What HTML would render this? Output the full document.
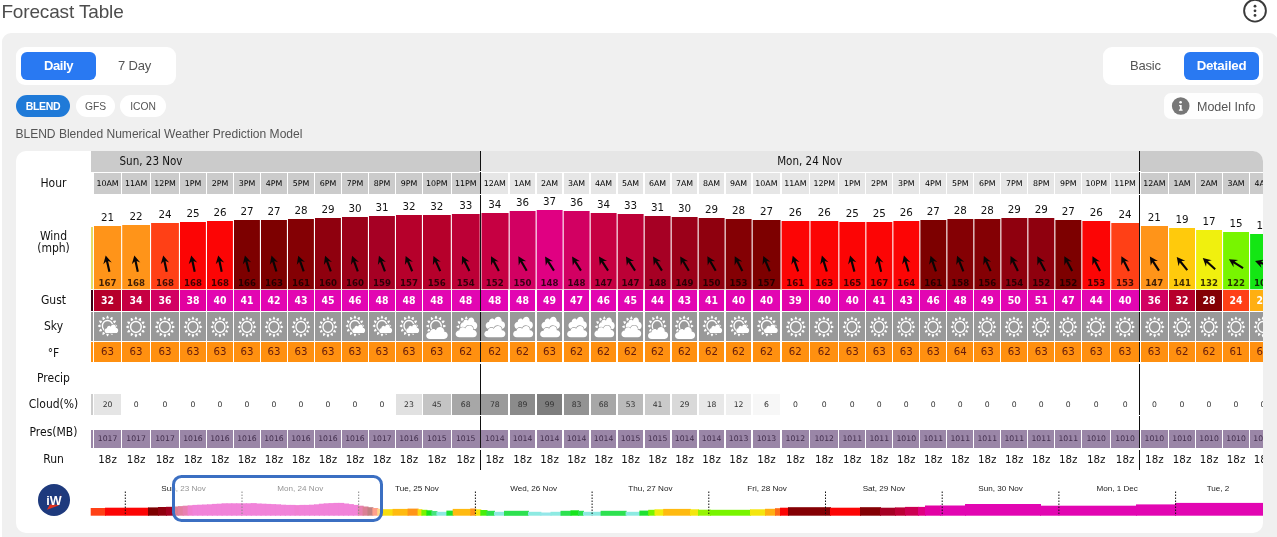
<!DOCTYPE html><html lang="en"><head><meta charset="utf-8"><title>Forecast Table</title><style>
html,body{margin:0;padding:0;background:#fff;}
body{width:1277px;height:537px;overflow:hidden;position:relative;font-family:"Liberation Sans",sans-serif;color:#555;}
.a{position:absolute;}
.t{position:absolute;white-space:nowrap;line-height:1;}
#panel{left:2px;top:33px;width:1276px;height:520px;background:#f0f0f0;border-radius:9px;}
#tbl{left:16px;top:151px;width:1247px;height:382px;background:#fff;border-radius:10px;overflow:hidden;font-family:"DejaVu Sans",sans-serif;color:#111;}
.tog{background:#fff;border-radius:9px;}
.btn{background:#2979f2;border-radius:6px;color:#fff;font-weight:bold;text-align:center;}
.pill{border-radius:11px;background:#fff;text-align:center;}
.c{position:absolute;text-align:center;white-space:nowrap;overflow:hidden;}
.lab{position:absolute;left:0;width:75px;text-align:center;font-family:"DejaVu Sans Condensed","DejaVu Sans",sans-serif;font-stretch:condensed;font-size:12px;line-height:12px;color:#111;}
.hr{top:21.5px;height:21.4px;line-height:22px;font-size:7.9px;color:#000;}
.ws{font-size:10.3px;line-height:12px;height:12px;color:#111;}
.wd{top:125.5px;height:12px;line-height:12px;font-size:8.6px;font-weight:bold;color:rgba(15,0,0,.8);}
.gu{top:139px;height:20.7px;line-height:21px;font-family:"DejaVu Sans Condensed","DejaVu Sans",sans-serif;font-stretch:condensed;font-size:10.4px;font-weight:bold;color:#fff;}
.sk{top:160.7px;height:29px;background:#999;}
.tf{top:191.1px;height:20.4px;line-height:20.6px;font-size:10.2px;color:rgba(70,5,10,.85);background:#ff9010;}
.cl{top:243px;height:21px;line-height:21px;font-size:7.7px;color:#333;}
.pr{top:278.5px;height:18.5px;line-height:18.5px;font-size:7.7px;color:rgba(40,20,50,.8);background:#9a86a7;}
.rn{top:300px;height:16px;line-height:16px;font-size:10.3px;color:#111;}
.tl{position:absolute;top:333px;font-family:"Liberation Sans",sans-serif;font-size:8.1px;color:#222;white-space:nowrap;transform:translateX(-50%);line-height:10px;}
</style></head><body>
<div class="t" id="title" style="left:1.4px;top:1.5px;font-size:19px;color:#4d4d4d;letter-spacing:-0.15px">Forecast Table</div>
<svg class="a" style="left:1241px;top:-3px" width="28" height="28" viewBox="0 0 28 28"><circle cx="14" cy="13.7" r="10.9" fill="none" stroke="#3a3a3a" stroke-width="1.9"/><circle cx="14" cy="9.2" r="1.4" fill="#3a3a3a"/><circle cx="14" cy="13.8" r="1.4" fill="#3a3a3a"/><circle cx="14" cy="18.4" r="1.4" fill="#3a3a3a"/></svg>
<div class="a" id="panel"></div>
<div class="a tog" style="left:16px;top:47px;width:160px;height:38px"></div>
<div class="a btn" style="left:21px;top:52px;width:75px;height:28px;line-height:28px;font-size:13px;letter-spacing:-0.4px">Daily</div>
<div class="t" style="left:118px;top:59px;font-size:13px;color:#555;letter-spacing:-0.2px">7 Day</div>
<div class="a pill" style="left:16px;top:95px;width:54px;height:22px;line-height:22px;background:#1f7ad8;color:#fff;font-weight:bold;font-size:10.5px;letter-spacing:-0.35px">BLEND</div>
<div class="a pill" style="left:76px;top:95px;width:39px;height:22px;line-height:23px;font-size:10.3px;color:#555">GFS</div>
<div class="a pill" style="left:120px;top:95px;width:46px;height:22px;line-height:23px;font-size:10.3px;color:#555">ICON</div>
<div class="t" id="desc" style="left:15.4px;top:128.3px;font-size:12.05px;color:#555">BLEND Blended Numerical Weather Prediction Model</div>
<div class="a tog" style="left:1103px;top:47px;width:160px;height:38px"></div>
<div class="t" style="left:1130px;top:59px;font-size:13px;color:#555;letter-spacing:-0.2px">Basic</div>
<div class="a btn" style="left:1184px;top:52px;width:75px;height:28px;line-height:28px;font-size:13.3px;letter-spacing:-0.25px">Detailed</div>
<div class="a" style="left:1164px;top:93px;width:99px;height:26px;background:#fefefe;border-radius:7px"></div>
<svg class="a" style="left:1171px;top:96px" width="20" height="20" viewBox="0 0 20 20"><circle cx="9.7" cy="10" r="8.8" fill="#777"/><circle cx="9.6" cy="6.3" r="1.3" fill="#fff"/><path d="M8.1 8.9h2.6v4.5h0.9v1.3H7.9v-1.3h1v-3.2H8.1z" fill="#fff"/></svg>
<div class="t" style="left:1197px;top:100.5px;font-size:12.5px;color:#555">Model Info</div>
<div class="a" id="tbl"><div class="a" style="left:75px;top:0;width:389.0px;height:20.6px;background:#cbcbcb"></div><div class="a" style="left:464.0px;top:0;width:659.4px;height:20.6px;background:#e6e6e6"></div><div class="a" style="left:1123.4px;top:0;width:123.6px;height:20.6px;background:#cbcbcb"></div><div class="c" style="left:75px;top:3px;width:120px;font-family:'DejaVu Sans Condensed','DejaVu Sans',sans-serif;font-stretch:condensed;font-size:11.5px;line-height:14px;color:#111">Sun, 23 Nov</div><div class="c" style="left:464.0px;top:3px;width:659.4px;font-family:'DejaVu Sans Condensed','DejaVu Sans',sans-serif;font-stretch:condensed;font-size:11.5px;line-height:14px;color:#111">Mon, 24 Nov</div><div class="lab" style="top:26px">Hour</div><div class="lab" style="top:143px">Gust</div><div class="lab" style="top:169px">Sky</div><div class="lab" style="top:195.5px">°F</div><div class="lab" style="top:221px">Precip</div><div class="lab" style="top:247px">Cloud(%)</div><div class="lab" style="top:275px">Pres(MB)</div><div class="lab" style="top:302px">Run</div><div class="lab" style="top:79px">Wind<br>(mph)</div><div class="a" style="left:75px;top:76px;width:2px;height:62.2px;background:#e6dc64"></div><div class="a" style="left:75px;top:139px;width:2px;height:20.7px;background:#3a0012"></div><div class="a" style="left:75px;top:160.7px;width:2px;height:29px;background:#999"></div><div class="a" style="left:75px;top:191.1px;width:2px;height:20.4px;background:#ff9010"></div><div class="a" style="left:75px;top:243px;width:2px;height:21px;background:#ccc"></div><div class="a" style="left:75px;top:278.5px;width:2px;height:18.5px;background:#9a86a7"></div><svg class="a" style="left:0;top:0" width="1247" height="140" viewBox="0 0 1247 140"><polygon points="78.0,75.0 105.1,75.0 105.1,138.2 78.0,138.2" fill="#ff9419"/><g transform="translate(91.6,112.7) rotate(347)"><path d="M0 -8.5 L4.3 -0.3 L1.1 -2.5 L1.05 8.2 L-1.05 8.2 L-1.1 -2.5 L-4.3 -0.3 Z" fill="#0a0505"/></g><polygon points="106.2,74.0 134.0,73.9 134.0,138.2 106.2,138.2" fill="#ff9419"/><g transform="translate(120.1,112.7) rotate(348)"><path d="M0 -8.5 L4.3 -0.3 L1.1 -2.5 L1.05 8.2 L-1.05 8.2 L-1.1 -2.5 L-4.3 -0.3 Z" fill="#0a0505"/></g><polygon points="135.1,72.1 162.9,72.0 162.9,138.2 135.1,138.2" fill="#ff4016"/><g transform="translate(149.0,112.7) rotate(348)"><path d="M0 -8.5 L4.3 -0.3 L1.1 -2.5 L1.05 8.2 L-1.05 8.2 L-1.1 -2.5 L-4.3 -0.3 Z" fill="#0a0505"/></g><polygon points="164.0,71.0 189.9,71.0 189.9,138.2 164.0,138.2" fill="#fc0505"/><g transform="translate(177.0,112.7) rotate(348)"><path d="M0 -8.5 L4.3 -0.3 L1.1 -2.5 L1.05 8.2 L-1.05 8.2 L-1.1 -2.5 L-4.3 -0.3 Z" fill="#0a0505"/></g><polygon points="191.0,70.0 216.9,70.0 216.9,138.2 191.0,138.2" fill="#fc0505"/><g transform="translate(204.0,112.7) rotate(348)"><path d="M0 -8.5 L4.3 -0.3 L1.1 -2.5 L1.05 8.2 L-1.05 8.2 L-1.1 -2.5 L-4.3 -0.3 Z" fill="#0a0505"/></g><polygon points="218.0,69.0 243.9,69.0 243.9,138.2 218.0,138.2" fill="#7d0000"/><g transform="translate(231.0,112.7) rotate(346)"><path d="M0 -8.5 L4.3 -0.3 L1.1 -2.5 L1.05 8.2 L-1.05 8.2 L-1.1 -2.5 L-4.3 -0.3 Z" fill="#0a0505"/></g><polygon points="245.0,69.0 270.9,69.0 270.9,138.2 245.0,138.2" fill="#7d0000"/><g transform="translate(258.0,112.7) rotate(343)"><path d="M0 -8.5 L4.3 -0.3 L1.1 -2.5 L1.05 8.2 L-1.05 8.2 L-1.1 -2.5 L-4.3 -0.3 Z" fill="#0a0505"/></g><polygon points="272.0,68.0 297.9,68.0 297.9,138.2 272.0,138.2" fill="#840004"/><g transform="translate(285.0,112.7) rotate(341)"><path d="M0 -8.5 L4.3 -0.3 L1.1 -2.5 L1.05 8.2 L-1.05 8.2 L-1.1 -2.5 L-4.3 -0.3 Z" fill="#0a0505"/></g><polygon points="299.0,67.0 324.9,67.0 324.9,138.2 299.0,138.2" fill="#8f000e"/><g transform="translate(312.0,112.7) rotate(340)"><path d="M0 -8.5 L4.3 -0.3 L1.1 -2.5 L1.05 8.2 L-1.05 8.2 L-1.1 -2.5 L-4.3 -0.3 Z" fill="#0a0505"/></g><polygon points="326.0,66.0 351.9,66.0 351.9,138.2 326.0,138.2" fill="#9b0019"/><g transform="translate(339.0,112.7) rotate(340)"><path d="M0 -8.5 L4.3 -0.3 L1.1 -2.5 L1.05 8.2 L-1.05 8.2 L-1.1 -2.5 L-4.3 -0.3 Z" fill="#0a0505"/></g><polygon points="353.0,65.0 378.9,65.0 378.9,138.2 353.0,138.2" fill="#a60024"/><g transform="translate(366.0,112.7) rotate(339)"><path d="M0 -8.5 L4.3 -0.3 L1.1 -2.5 L1.05 8.2 L-1.05 8.2 L-1.1 -2.5 L-4.3 -0.3 Z" fill="#0a0505"/></g><polygon points="380.0,64.0 405.9,64.0 405.9,138.2 380.0,138.2" fill="#b6002b"/><g transform="translate(393.0,112.7) rotate(337)"><path d="M0 -8.5 L4.3 -0.3 L1.1 -2.5 L1.05 8.2 L-1.05 8.2 L-1.1 -2.5 L-4.3 -0.3 Z" fill="#0a0505"/></g><polygon points="407.0,64.0 434.8,64.0 434.8,138.2 407.0,138.2" fill="#b6002b"/><g transform="translate(420.9,112.7) rotate(336)"><path d="M0 -8.5 L4.3 -0.3 L1.1 -2.5 L1.05 8.2 L-1.05 8.2 L-1.1 -2.5 L-4.3 -0.3 Z" fill="#0a0505"/></g><polygon points="435.9,63.0 463.7,63.0 463.7,138.2 435.9,138.2" fill="#bc0036"/><g transform="translate(449.8,112.7) rotate(334)"><path d="M0 -8.5 L4.3 -0.3 L1.1 -2.5 L1.05 8.2 L-1.05 8.2 L-1.1 -2.5 L-4.3 -0.3 Z" fill="#0a0505"/></g><polygon points="465.5,62.0 492.6,61.9 492.6,138.2 465.5,138.2" fill="#c60042"/><g transform="translate(479.0,112.7) rotate(332)"><path d="M0 -8.5 L4.3 -0.3 L1.1 -2.5 L1.05 8.2 L-1.05 8.2 L-1.1 -2.5 L-4.3 -0.3 Z" fill="#0a0505"/></g><polygon points="493.7,60.1 519.6,60.0 519.6,138.2 493.7,138.2" fill="#d20062"/><g transform="translate(506.6,112.7) rotate(330)"><path d="M0 -8.5 L4.3 -0.3 L1.1 -2.5 L1.05 8.2 L-1.05 8.2 L-1.1 -2.5 L-4.3 -0.3 Z" fill="#0a0505"/></g><polygon points="520.7,59.0 546.6,59.0 546.6,138.2 520.7,138.2" fill="#e00082"/><g transform="translate(533.6,112.7) rotate(328)"><path d="M0 -8.5 L4.3 -0.3 L1.1 -2.5 L1.05 8.2 L-1.05 8.2 L-1.1 -2.5 L-4.3 -0.3 Z" fill="#0a0505"/></g><polygon points="547.7,60.0 573.6,60.1 573.6,138.2 547.7,138.2" fill="#d20062"/><g transform="translate(560.6,112.7) rotate(328)"><path d="M0 -8.5 L4.3 -0.3 L1.1 -2.5 L1.05 8.2 L-1.05 8.2 L-1.1 -2.5 L-4.3 -0.3 Z" fill="#0a0505"/></g><polygon points="574.7,61.9 600.6,62.0 600.6,138.2 574.7,138.2" fill="#c60042"/><g transform="translate(587.6,112.7) rotate(327)"><path d="M0 -8.5 L4.3 -0.3 L1.1 -2.5 L1.05 8.2 L-1.05 8.2 L-1.1 -2.5 L-4.3 -0.3 Z" fill="#0a0505"/></g><polygon points="601.7,63.0 627.6,63.1 627.6,138.2 601.7,138.2" fill="#bc0036"/><g transform="translate(614.6,112.7) rotate(327)"><path d="M0 -8.5 L4.3 -0.3 L1.1 -2.5 L1.05 8.2 L-1.05 8.2 L-1.1 -2.5 L-4.3 -0.3 Z" fill="#0a0505"/></g><polygon points="628.7,64.9 654.6,65.0 654.6,138.2 628.7,138.2" fill="#a60024"/><g transform="translate(641.6,112.7) rotate(328)"><path d="M0 -8.5 L4.3 -0.3 L1.1 -2.5 L1.05 8.2 L-1.05 8.2 L-1.1 -2.5 L-4.3 -0.3 Z" fill="#0a0505"/></g><polygon points="655.7,66.0 681.6,66.0 681.6,138.2 655.7,138.2" fill="#9b0019"/><g transform="translate(668.6,112.7) rotate(329)"><path d="M0 -8.5 L4.3 -0.3 L1.1 -2.5 L1.05 8.2 L-1.05 8.2 L-1.1 -2.5 L-4.3 -0.3 Z" fill="#0a0505"/></g><polygon points="682.7,67.0 708.6,67.0 708.6,138.2 682.7,138.2" fill="#8f000e"/><g transform="translate(695.6,112.7) rotate(330)"><path d="M0 -8.5 L4.3 -0.3 L1.1 -2.5 L1.05 8.2 L-1.05 8.2 L-1.1 -2.5 L-4.3 -0.3 Z" fill="#0a0505"/></g><polygon points="709.7,68.0 735.6,68.0 735.6,138.2 709.7,138.2" fill="#840004"/><g transform="translate(722.6,112.7) rotate(333)"><path d="M0 -8.5 L4.3 -0.3 L1.1 -2.5 L1.05 8.2 L-1.05 8.2 L-1.1 -2.5 L-4.3 -0.3 Z" fill="#0a0505"/></g><polygon points="736.7,69.0 764.5,69.0 764.5,138.2 736.7,138.2" fill="#7d0000"/><g transform="translate(750.6,112.7) rotate(337)"><path d="M0 -8.5 L4.3 -0.3 L1.1 -2.5 L1.05 8.2 L-1.05 8.2 L-1.1 -2.5 L-4.3 -0.3 Z" fill="#0a0505"/></g><polygon points="765.6,70.0 793.4,70.0 793.4,138.2 765.6,138.2" fill="#fc0505"/><g transform="translate(779.5,112.7) rotate(341)"><path d="M0 -8.5 L4.3 -0.3 L1.1 -2.5 L1.05 8.2 L-1.05 8.2 L-1.1 -2.5 L-4.3 -0.3 Z" fill="#0a0505"/></g><polygon points="794.5,70.0 822.3,70.0 822.3,138.2 794.5,138.2" fill="#fc0505"/><g transform="translate(808.4,112.7) rotate(343)"><path d="M0 -8.5 L4.3 -0.3 L1.1 -2.5 L1.05 8.2 L-1.05 8.2 L-1.1 -2.5 L-4.3 -0.3 Z" fill="#0a0505"/></g><polygon points="823.4,71.0 849.3,71.0 849.3,138.2 823.4,138.2" fill="#fc0505"/><g transform="translate(836.3,112.7) rotate(345)"><path d="M0 -8.5 L4.3 -0.3 L1.1 -2.5 L1.05 8.2 L-1.05 8.2 L-1.1 -2.5 L-4.3 -0.3 Z" fill="#0a0505"/></g><polygon points="850.4,71.0 876.3,71.0 876.3,138.2 850.4,138.2" fill="#fc0505"/><g transform="translate(863.3,112.7) rotate(347)"><path d="M0 -8.5 L4.3 -0.3 L1.1 -2.5 L1.05 8.2 L-1.05 8.2 L-1.1 -2.5 L-4.3 -0.3 Z" fill="#0a0505"/></g><polygon points="877.4,70.0 903.3,70.0 903.3,138.2 877.4,138.2" fill="#fc0505"/><g transform="translate(890.3,112.7) rotate(344)"><path d="M0 -8.5 L4.3 -0.3 L1.1 -2.5 L1.05 8.2 L-1.05 8.2 L-1.1 -2.5 L-4.3 -0.3 Z" fill="#0a0505"/></g><polygon points="904.4,69.0 930.3,69.0 930.3,138.2 904.4,138.2" fill="#7d0000"/><g transform="translate(917.3,112.7) rotate(341)"><path d="M0 -8.5 L4.3 -0.3 L1.1 -2.5 L1.05 8.2 L-1.05 8.2 L-1.1 -2.5 L-4.3 -0.3 Z" fill="#0a0505"/></g><polygon points="931.4,68.0 957.3,68.0 957.3,138.2 931.4,138.2" fill="#840004"/><g transform="translate(944.3,112.7) rotate(338)"><path d="M0 -8.5 L4.3 -0.3 L1.1 -2.5 L1.05 8.2 L-1.05 8.2 L-1.1 -2.5 L-4.3 -0.3 Z" fill="#0a0505"/></g><polygon points="958.4,68.0 984.3,68.0 984.3,138.2 958.4,138.2" fill="#840004"/><g transform="translate(971.3,112.7) rotate(336)"><path d="M0 -8.5 L4.3 -0.3 L1.1 -2.5 L1.05 8.2 L-1.05 8.2 L-1.1 -2.5 L-4.3 -0.3 Z" fill="#0a0505"/></g><polygon points="985.4,67.0 1011.3,67.0 1011.3,138.2 985.4,138.2" fill="#8f000e"/><g transform="translate(998.3,112.7) rotate(334)"><path d="M0 -8.5 L4.3 -0.3 L1.1 -2.5 L1.05 8.2 L-1.05 8.2 L-1.1 -2.5 L-4.3 -0.3 Z" fill="#0a0505"/></g><polygon points="1012.4,67.0 1038.3,67.1 1038.3,138.2 1012.4,138.2" fill="#8f000e"/><g transform="translate(1025.3,112.7) rotate(332)"><path d="M0 -8.5 L4.3 -0.3 L1.1 -2.5 L1.05 8.2 L-1.05 8.2 L-1.1 -2.5 L-4.3 -0.3 Z" fill="#0a0505"/></g><polygon points="1039.4,68.9 1065.3,69.0 1065.3,138.2 1039.4,138.2" fill="#7d0000"/><g transform="translate(1052.3,112.7) rotate(332)"><path d="M0 -8.5 L4.3 -0.3 L1.1 -2.5 L1.05 8.2 L-1.05 8.2 L-1.1 -2.5 L-4.3 -0.3 Z" fill="#0a0505"/></g><polygon points="1066.4,70.0 1094.2,70.1 1094.2,138.2 1066.4,138.2" fill="#fc0505"/><g transform="translate(1080.3,112.7) rotate(333)"><path d="M0 -8.5 L4.3 -0.3 L1.1 -2.5 L1.05 8.2 L-1.05 8.2 L-1.1 -2.5 L-4.3 -0.3 Z" fill="#0a0505"/></g><polygon points="1095.3,71.9 1123.1,72.1 1123.1,138.2 1095.3,138.2" fill="#ff4016"/><g transform="translate(1109.2,112.7) rotate(333)"><path d="M0 -8.5 L4.3 -0.3 L1.1 -2.5 L1.05 8.2 L-1.05 8.2 L-1.1 -2.5 L-4.3 -0.3 Z" fill="#0a0505"/></g><polygon points="1124.9,74.9 1152.0,75.1 1152.0,138.2 1124.9,138.2" fill="#ff9419"/><g transform="translate(1138.5,112.7) rotate(327)"><path d="M0 -8.5 L4.3 -0.3 L1.1 -2.5 L1.05 8.2 L-1.05 8.2 L-1.1 -2.5 L-4.3 -0.3 Z" fill="#0a0505"/></g><polygon points="1153.1,76.9 1179.0,77.1 1179.0,138.2 1153.1,138.2" fill="#ffca0c"/><g transform="translate(1166.1,112.7) rotate(321)"><path d="M0 -8.5 L4.3 -0.3 L1.1 -2.5 L1.05 8.2 L-1.05 8.2 L-1.1 -2.5 L-4.3 -0.3 Z" fill="#0a0505"/></g><polygon points="1180.1,78.9 1206.0,79.1 1206.0,138.2 1180.1,138.2" fill="#f0f00e"/><g transform="translate(1193.1,112.7) rotate(312)"><path d="M0 -8.5 L4.3 -0.3 L1.1 -2.5 L1.05 8.2 L-1.05 8.2 L-1.1 -2.5 L-4.3 -0.3 Z" fill="#0a0505"/></g><polygon points="1207.1,80.9 1233.0,81.1 1233.0,138.2 1207.1,138.2" fill="#78f500"/><g transform="translate(1220.1,112.7) rotate(302)"><path d="M0 -8.5 L4.3 -0.3 L1.1 -2.5 L1.05 8.2 L-1.05 8.2 L-1.1 -2.5 L-4.3 -0.3 Z" fill="#0a0505"/></g><polygon points="1234.1,82.9 1260.0,83.1 1260.0,138.2 1234.1,138.2" fill="#14e614"/><g transform="translate(1247.1,112.7) rotate(289)"><path d="M0 -8.5 L4.3 -0.3 L1.1 -2.5 L1.05 8.2 L-1.05 8.2 L-1.1 -2.5 L-4.3 -0.3 Z" fill="#0a0505"/></g></svg><div class="c hr" style="left:78.0px;width:27.1px;background:#cbcbcb">10AM</div><div class="c ws" style="left:78.0px;width:27.1px;top:60.4px">21</div><div class="c wd" style="left:78.0px;width:27.1px">167</div><div class="c gu" style="left:78.0px;width:27.1px;background:#b6002b">32</div><div class="c sk" style="left:78.0px;width:27.1px"><svg width="27.1" height="29" viewBox="0 0 26 26" preserveAspectRatio="none" style="position:absolute;left:0;top:0"><circle cx="13" cy="12.5" r="4.95" fill="none" stroke="#fff" stroke-width="1.3"/><path d="M13.00 3.80L13.70 5.30L12.30 5.30ZM17.35 4.97L17.21 6.61L15.99 5.91ZM20.53 8.15L19.59 9.51L18.89 8.29ZM21.70 12.50L20.20 13.20L20.20 11.80ZM20.53 16.85L18.89 16.71L19.59 15.49ZM17.35 20.03L15.99 19.09L17.21 18.39ZM13.00 21.20L12.30 19.70L13.70 19.70ZM8.65 20.03L8.79 18.39L10.01 19.09ZM5.47 16.85L6.41 15.49L7.11 16.71ZM4.30 12.50L5.80 11.80L5.80 13.20ZM5.47 8.15L7.11 8.29L6.41 9.51ZM8.65 4.97L10.01 5.91L8.79 6.61Z" fill="#fff" stroke="#fff" stroke-width="1.1" stroke-linejoin="round"/><path d="M12.60 18.90 C9.50 18.90 9.50 14.61 12.47 14.47 C12.60 12.39 15.06 11.61 16.09 13.17 C17.06 10.05 21.26 10.70 21.00 14.08 C23.98 14.21 23.98 18.90 21.00 18.90 Z" fill="#fff" stroke="#999" stroke-width="1.0" paint-order="stroke"/></svg></div><div class="c tf" style="left:78.0px;width:27.1px">63</div><div class="c cl" style="left:78.0px;width:27.1px;background:#e5e5e5;">20</div><div class="c pr" style="left:78.0px;width:27.1px">1017</div><div class="c rn" style="left:78.0px;width:27.1px">18z</div><div class="c hr" style="left:106.2px;width:27.8px;background:#cbcbcb">11AM</div><div class="c ws" style="left:106.2px;width:27.8px;top:59.4px">22</div><div class="c wd" style="left:106.2px;width:27.8px">168</div><div class="c gu" style="left:106.2px;width:27.8px;background:#c60042">34</div><div class="c sk" style="left:106.2px;width:27.8px"><svg width="27.8" height="29" viewBox="0 0 26 26" preserveAspectRatio="none" style="position:absolute;left:0;top:0"><circle cx="13" cy="13.4" r="4.95" fill="none" stroke="#fff" stroke-width="1.3"/><path d="M13.00 4.70L13.70 6.20L12.30 6.20ZM17.35 5.87L17.21 7.51L15.99 6.81ZM20.53 9.05L19.59 10.41L18.89 9.19ZM21.70 13.40L20.20 14.10L20.20 12.70ZM20.53 17.75L18.89 17.61L19.59 16.39ZM17.35 20.93L15.99 19.99L17.21 19.29ZM13.00 22.10L12.30 20.60L13.70 20.60ZM8.65 20.93L8.79 19.29L10.01 19.99ZM5.47 17.75L6.41 16.39L7.11 17.61ZM4.30 13.40L5.80 12.70L5.80 14.10ZM5.47 9.05L7.11 9.19L6.41 10.41ZM8.65 5.87L10.01 6.81L8.79 7.51Z" fill="#fff" stroke="#fff" stroke-width="1.1" stroke-linejoin="round"/></svg></div><div class="c tf" style="left:106.2px;width:27.8px">63</div><div class="c cl" style="left:106.2px;width:27.8px;">0</div><div class="c pr" style="left:106.2px;width:27.8px">1017</div><div class="c rn" style="left:106.2px;width:27.8px">18z</div><div class="c hr" style="left:135.1px;width:27.8px;background:#cbcbcb">12PM</div><div class="c ws" style="left:135.1px;width:27.8px;top:57.4px">24</div><div class="c wd" style="left:135.1px;width:27.8px">168</div><div class="c gu" style="left:135.1px;width:27.8px;background:#d20062">36</div><div class="c sk" style="left:135.1px;width:27.8px"><svg width="27.8" height="29" viewBox="0 0 26 26" preserveAspectRatio="none" style="position:absolute;left:0;top:0"><circle cx="13" cy="13.4" r="4.95" fill="none" stroke="#fff" stroke-width="1.3"/><path d="M13.00 4.70L13.70 6.20L12.30 6.20ZM17.35 5.87L17.21 7.51L15.99 6.81ZM20.53 9.05L19.59 10.41L18.89 9.19ZM21.70 13.40L20.20 14.10L20.20 12.70ZM20.53 17.75L18.89 17.61L19.59 16.39ZM17.35 20.93L15.99 19.99L17.21 19.29ZM13.00 22.10L12.30 20.60L13.70 20.60ZM8.65 20.93L8.79 19.29L10.01 19.99ZM5.47 17.75L6.41 16.39L7.11 17.61ZM4.30 13.40L5.80 12.70L5.80 14.10ZM5.47 9.05L7.11 9.19L6.41 10.41ZM8.65 5.87L10.01 6.81L8.79 7.51Z" fill="#fff" stroke="#fff" stroke-width="1.1" stroke-linejoin="round"/></svg></div><div class="c tf" style="left:135.1px;width:27.8px">63</div><div class="c cl" style="left:135.1px;width:27.8px;">0</div><div class="c pr" style="left:135.1px;width:27.8px">1017</div><div class="c rn" style="left:135.1px;width:27.8px">18z</div><div class="c hr" style="left:164.0px;width:25.9px;background:#cbcbcb">1PM</div><div class="c ws" style="left:164.0px;width:25.9px;top:56.4px">25</div><div class="c wd" style="left:164.0px;width:25.9px">168</div><div class="c gu" style="left:164.0px;width:25.9px;background:#e200a0">38</div><div class="c sk" style="left:164.0px;width:25.9px"><svg width="25.9" height="29" viewBox="0 0 26 26" preserveAspectRatio="none" style="position:absolute;left:0;top:0"><circle cx="13" cy="13.4" r="4.95" fill="none" stroke="#fff" stroke-width="1.3"/><path d="M13.00 4.70L13.70 6.20L12.30 6.20ZM17.35 5.87L17.21 7.51L15.99 6.81ZM20.53 9.05L19.59 10.41L18.89 9.19ZM21.70 13.40L20.20 14.10L20.20 12.70ZM20.53 17.75L18.89 17.61L19.59 16.39ZM17.35 20.93L15.99 19.99L17.21 19.29ZM13.00 22.10L12.30 20.60L13.70 20.60ZM8.65 20.93L8.79 19.29L10.01 19.99ZM5.47 17.75L6.41 16.39L7.11 17.61ZM4.30 13.40L5.80 12.70L5.80 14.10ZM5.47 9.05L7.11 9.19L6.41 10.41ZM8.65 5.87L10.01 6.81L8.79 7.51Z" fill="#fff" stroke="#fff" stroke-width="1.1" stroke-linejoin="round"/></svg></div><div class="c tf" style="left:164.0px;width:25.9px">63</div><div class="c cl" style="left:164.0px;width:25.9px;">0</div><div class="c pr" style="left:164.0px;width:25.9px">1016</div><div class="c rn" style="left:164.0px;width:25.9px">18z</div><div class="c hr" style="left:191.0px;width:25.9px;background:#cbcbcb">2PM</div><div class="c ws" style="left:191.0px;width:25.9px;top:55.4px">26</div><div class="c wd" style="left:191.0px;width:25.9px">168</div><div class="c gu" style="left:191.0px;width:25.9px;background:#e206b2">40</div><div class="c sk" style="left:191.0px;width:25.9px"><svg width="25.9" height="29" viewBox="0 0 26 26" preserveAspectRatio="none" style="position:absolute;left:0;top:0"><circle cx="13" cy="13.4" r="4.95" fill="none" stroke="#fff" stroke-width="1.3"/><path d="M13.00 4.70L13.70 6.20L12.30 6.20ZM17.35 5.87L17.21 7.51L15.99 6.81ZM20.53 9.05L19.59 10.41L18.89 9.19ZM21.70 13.40L20.20 14.10L20.20 12.70ZM20.53 17.75L18.89 17.61L19.59 16.39ZM17.35 20.93L15.99 19.99L17.21 19.29ZM13.00 22.10L12.30 20.60L13.70 20.60ZM8.65 20.93L8.79 19.29L10.01 19.99ZM5.47 17.75L6.41 16.39L7.11 17.61ZM4.30 13.40L5.80 12.70L5.80 14.10ZM5.47 9.05L7.11 9.19L6.41 10.41ZM8.65 5.87L10.01 6.81L8.79 7.51Z" fill="#fff" stroke="#fff" stroke-width="1.1" stroke-linejoin="round"/></svg></div><div class="c tf" style="left:191.0px;width:25.9px">63</div><div class="c cl" style="left:191.0px;width:25.9px;">0</div><div class="c pr" style="left:191.0px;width:25.9px">1016</div><div class="c rn" style="left:191.0px;width:25.9px">18z</div><div class="c hr" style="left:218.0px;width:25.9px;background:#cbcbcb">3PM</div><div class="c ws" style="left:218.0px;width:25.9px;top:54.4px">27</div><div class="c wd" style="left:218.0px;width:25.9px">166</div><div class="c gu" style="left:218.0px;width:25.9px;background:#e206b2">41</div><div class="c sk" style="left:218.0px;width:25.9px"><svg width="25.9" height="29" viewBox="0 0 26 26" preserveAspectRatio="none" style="position:absolute;left:0;top:0"><circle cx="13" cy="13.4" r="4.95" fill="none" stroke="#fff" stroke-width="1.3"/><path d="M13.00 4.70L13.70 6.20L12.30 6.20ZM17.35 5.87L17.21 7.51L15.99 6.81ZM20.53 9.05L19.59 10.41L18.89 9.19ZM21.70 13.40L20.20 14.10L20.20 12.70ZM20.53 17.75L18.89 17.61L19.59 16.39ZM17.35 20.93L15.99 19.99L17.21 19.29ZM13.00 22.10L12.30 20.60L13.70 20.60ZM8.65 20.93L8.79 19.29L10.01 19.99ZM5.47 17.75L6.41 16.39L7.11 17.61ZM4.30 13.40L5.80 12.70L5.80 14.10ZM5.47 9.05L7.11 9.19L6.41 10.41ZM8.65 5.87L10.01 6.81L8.79 7.51Z" fill="#fff" stroke="#fff" stroke-width="1.1" stroke-linejoin="round"/></svg></div><div class="c tf" style="left:218.0px;width:25.9px">63</div><div class="c cl" style="left:218.0px;width:25.9px;">0</div><div class="c pr" style="left:218.0px;width:25.9px">1016</div><div class="c rn" style="left:218.0px;width:25.9px">18z</div><div class="c hr" style="left:245.0px;width:25.9px;background:#cbcbcb">4PM</div><div class="c ws" style="left:245.0px;width:25.9px;top:54.4px">27</div><div class="c wd" style="left:245.0px;width:25.9px">163</div><div class="c gu" style="left:245.0px;width:25.9px;background:#e206b2">42</div><div class="c sk" style="left:245.0px;width:25.9px"><svg width="25.9" height="29" viewBox="0 0 26 26" preserveAspectRatio="none" style="position:absolute;left:0;top:0"><circle cx="13" cy="13.4" r="4.95" fill="none" stroke="#fff" stroke-width="1.3"/><path d="M13.00 4.70L13.70 6.20L12.30 6.20ZM17.35 5.87L17.21 7.51L15.99 6.81ZM20.53 9.05L19.59 10.41L18.89 9.19ZM21.70 13.40L20.20 14.10L20.20 12.70ZM20.53 17.75L18.89 17.61L19.59 16.39ZM17.35 20.93L15.99 19.99L17.21 19.29ZM13.00 22.10L12.30 20.60L13.70 20.60ZM8.65 20.93L8.79 19.29L10.01 19.99ZM5.47 17.75L6.41 16.39L7.11 17.61ZM4.30 13.40L5.80 12.70L5.80 14.10ZM5.47 9.05L7.11 9.19L6.41 10.41ZM8.65 5.87L10.01 6.81L8.79 7.51Z" fill="#fff" stroke="#fff" stroke-width="1.1" stroke-linejoin="round"/></svg></div><div class="c tf" style="left:245.0px;width:25.9px">63</div><div class="c cl" style="left:245.0px;width:25.9px;">0</div><div class="c pr" style="left:245.0px;width:25.9px">1016</div><div class="c rn" style="left:245.0px;width:25.9px">18z</div><div class="c hr" style="left:272.0px;width:25.9px;background:#cbcbcb">5PM</div><div class="c ws" style="left:272.0px;width:25.9px;top:53.4px">28</div><div class="c wd" style="left:272.0px;width:25.9px">161</div><div class="c gu" style="left:272.0px;width:25.9px;background:#e206b2">43</div><div class="c sk" style="left:272.0px;width:25.9px"><svg width="25.9" height="29" viewBox="0 0 26 26" preserveAspectRatio="none" style="position:absolute;left:0;top:0"><circle cx="13" cy="13.4" r="4.95" fill="none" stroke="#fff" stroke-width="1.3"/><path d="M13.00 4.70L13.70 6.20L12.30 6.20ZM17.35 5.87L17.21 7.51L15.99 6.81ZM20.53 9.05L19.59 10.41L18.89 9.19ZM21.70 13.40L20.20 14.10L20.20 12.70ZM20.53 17.75L18.89 17.61L19.59 16.39ZM17.35 20.93L15.99 19.99L17.21 19.29ZM13.00 22.10L12.30 20.60L13.70 20.60ZM8.65 20.93L8.79 19.29L10.01 19.99ZM5.47 17.75L6.41 16.39L7.11 17.61ZM4.30 13.40L5.80 12.70L5.80 14.10ZM5.47 9.05L7.11 9.19L6.41 10.41ZM8.65 5.87L10.01 6.81L8.79 7.51Z" fill="#fff" stroke="#fff" stroke-width="1.1" stroke-linejoin="round"/></svg></div><div class="c tf" style="left:272.0px;width:25.9px">63</div><div class="c cl" style="left:272.0px;width:25.9px;">0</div><div class="c pr" style="left:272.0px;width:25.9px">1016</div><div class="c rn" style="left:272.0px;width:25.9px">18z</div><div class="c hr" style="left:299.0px;width:25.9px;background:#cbcbcb">6PM</div><div class="c ws" style="left:299.0px;width:25.9px;top:52.4px">29</div><div class="c wd" style="left:299.0px;width:25.9px">160</div><div class="c gu" style="left:299.0px;width:25.9px;background:#e206b2">45</div><div class="c sk" style="left:299.0px;width:25.9px"><svg width="25.9" height="29" viewBox="0 0 26 26" preserveAspectRatio="none" style="position:absolute;left:0;top:0"><circle cx="13" cy="13.4" r="4.95" fill="none" stroke="#fff" stroke-width="1.3"/><path d="M13.00 4.70L13.70 6.20L12.30 6.20ZM17.35 5.87L17.21 7.51L15.99 6.81ZM20.53 9.05L19.59 10.41L18.89 9.19ZM21.70 13.40L20.20 14.10L20.20 12.70ZM20.53 17.75L18.89 17.61L19.59 16.39ZM17.35 20.93L15.99 19.99L17.21 19.29ZM13.00 22.10L12.30 20.60L13.70 20.60ZM8.65 20.93L8.79 19.29L10.01 19.99ZM5.47 17.75L6.41 16.39L7.11 17.61ZM4.30 13.40L5.80 12.70L5.80 14.10ZM5.47 9.05L7.11 9.19L6.41 10.41ZM8.65 5.87L10.01 6.81L8.79 7.51Z" fill="#fff" stroke="#fff" stroke-width="1.1" stroke-linejoin="round"/></svg></div><div class="c tf" style="left:299.0px;width:25.9px">63</div><div class="c cl" style="left:299.0px;width:25.9px;">0</div><div class="c pr" style="left:299.0px;width:25.9px">1016</div><div class="c rn" style="left:299.0px;width:25.9px">18z</div><div class="c hr" style="left:326.0px;width:25.9px;background:#cbcbcb">7PM</div><div class="c ws" style="left:326.0px;width:25.9px;top:51.4px">30</div><div class="c wd" style="left:326.0px;width:25.9px">160</div><div class="c gu" style="left:326.0px;width:25.9px;background:#e206b2">46</div><div class="c sk" style="left:326.0px;width:25.9px"><svg width="25.9" height="29" viewBox="0 0 26 26" preserveAspectRatio="none" style="position:absolute;left:0;top:0"><circle cx="13" cy="12.5" r="4.95" fill="none" stroke="#fff" stroke-width="1.3"/><path d="M13.00 3.80L13.70 5.30L12.30 5.30ZM17.35 4.97L17.21 6.61L15.99 5.91ZM20.53 8.15L19.59 9.51L18.89 8.29ZM21.70 12.50L20.20 13.20L20.20 11.80ZM20.53 16.85L18.89 16.71L19.59 15.49ZM17.35 20.03L15.99 19.09L17.21 18.39ZM13.00 21.20L12.30 19.70L13.70 19.70ZM8.65 20.03L8.79 18.39L10.01 19.09ZM5.47 16.85L6.41 15.49L7.11 16.71ZM4.30 12.50L5.80 11.80L5.80 13.20ZM5.47 8.15L7.11 8.29L6.41 9.51ZM8.65 4.97L10.01 5.91L8.79 6.61Z" fill="#fff" stroke="#fff" stroke-width="1.1" stroke-linejoin="round"/><path d="M12.60 18.90 C9.50 18.90 9.50 14.61 12.47 14.47 C12.60 12.39 15.06 11.61 16.09 13.17 C17.06 10.05 21.26 10.70 21.00 14.08 C23.98 14.21 23.98 18.90 21.00 18.90 Z" fill="#fff" stroke="#999" stroke-width="1.0" paint-order="stroke"/></svg></div><div class="c tf" style="left:326.0px;width:25.9px">63</div><div class="c cl" style="left:326.0px;width:25.9px;">0</div><div class="c pr" style="left:326.0px;width:25.9px">1016</div><div class="c rn" style="left:326.0px;width:25.9px">18z</div><div class="c hr" style="left:353.0px;width:25.9px;background:#cbcbcb">8PM</div><div class="c ws" style="left:353.0px;width:25.9px;top:50.4px">31</div><div class="c wd" style="left:353.0px;width:25.9px">159</div><div class="c gu" style="left:353.0px;width:25.9px;background:#e206b2">48</div><div class="c sk" style="left:353.0px;width:25.9px"><svg width="25.9" height="29" viewBox="0 0 26 26" preserveAspectRatio="none" style="position:absolute;left:0;top:0"><circle cx="13" cy="12.5" r="4.95" fill="none" stroke="#fff" stroke-width="1.3"/><path d="M13.00 3.80L13.70 5.30L12.30 5.30ZM17.35 4.97L17.21 6.61L15.99 5.91ZM20.53 8.15L19.59 9.51L18.89 8.29ZM21.70 12.50L20.20 13.20L20.20 11.80ZM20.53 16.85L18.89 16.71L19.59 15.49ZM17.35 20.03L15.99 19.09L17.21 18.39ZM13.00 21.20L12.30 19.70L13.70 19.70ZM8.65 20.03L8.79 18.39L10.01 19.09ZM5.47 16.85L6.41 15.49L7.11 16.71ZM4.30 12.50L5.80 11.80L5.80 13.20ZM5.47 8.15L7.11 8.29L6.41 9.51ZM8.65 4.97L10.01 5.91L8.79 6.61Z" fill="#fff" stroke="#fff" stroke-width="1.1" stroke-linejoin="round"/><path d="M12.60 18.90 C9.50 18.90 9.50 14.61 12.47 14.47 C12.60 12.39 15.06 11.61 16.09 13.17 C17.06 10.05 21.26 10.70 21.00 14.08 C23.98 14.21 23.98 18.90 21.00 18.90 Z" fill="#fff" stroke="#999" stroke-width="1.0" paint-order="stroke"/></svg></div><div class="c tf" style="left:353.0px;width:25.9px">63</div><div class="c cl" style="left:353.0px;width:25.9px;">0</div><div class="c pr" style="left:353.0px;width:25.9px">1017</div><div class="c rn" style="left:353.0px;width:25.9px">18z</div><div class="c hr" style="left:380.0px;width:25.9px;background:#cbcbcb">9PM</div><div class="c ws" style="left:380.0px;width:25.9px;top:49.4px">32</div><div class="c wd" style="left:380.0px;width:25.9px">157</div><div class="c gu" style="left:380.0px;width:25.9px;background:#e206b2">48</div><div class="c sk" style="left:380.0px;width:25.9px"><svg width="25.9" height="29" viewBox="0 0 26 26" preserveAspectRatio="none" style="position:absolute;left:0;top:0"><circle cx="13" cy="12.5" r="4.95" fill="none" stroke="#fff" stroke-width="1.3"/><path d="M13.00 3.80L13.70 5.30L12.30 5.30ZM17.35 4.97L17.21 6.61L15.99 5.91ZM20.53 8.15L19.59 9.51L18.89 8.29ZM21.70 12.50L20.20 13.20L20.20 11.80ZM20.53 16.85L18.89 16.71L19.59 15.49ZM17.35 20.03L15.99 19.09L17.21 18.39ZM13.00 21.20L12.30 19.70L13.70 19.70ZM8.65 20.03L8.79 18.39L10.01 19.09ZM5.47 16.85L6.41 15.49L7.11 16.71ZM4.30 12.50L5.80 11.80L5.80 13.20ZM5.47 8.15L7.11 8.29L6.41 9.51ZM8.65 4.97L10.01 5.91L8.79 6.61Z" fill="#fff" stroke="#fff" stroke-width="1.1" stroke-linejoin="round"/><path d="M12.60 18.90 C9.50 18.90 9.50 14.61 12.47 14.47 C12.60 12.39 15.06 11.61 16.09 13.17 C17.06 10.05 21.26 10.70 21.00 14.08 C23.98 14.21 23.98 18.90 21.00 18.90 Z" fill="#fff" stroke="#999" stroke-width="1.0" paint-order="stroke"/></svg></div><div class="c tf" style="left:380.0px;width:25.9px">63</div><div class="c cl" style="left:380.0px;width:25.9px;background:#e1e1e1;">23</div><div class="c pr" style="left:380.0px;width:25.9px">1016</div><div class="c rn" style="left:380.0px;width:25.9px">18z</div><div class="c hr" style="left:407.0px;width:27.7px;background:#cbcbcb">10PM</div><div class="c ws" style="left:407.0px;width:27.7px;top:49.4px">32</div><div class="c wd" style="left:407.0px;width:27.7px">156</div><div class="c gu" style="left:407.0px;width:27.7px;background:#e206b2">48</div><div class="c sk" style="left:407.0px;width:27.7px"><svg width="27.7" height="29" viewBox="0 0 26 26" preserveAspectRatio="none" style="position:absolute;left:0;top:0"><circle cx="12.2" cy="12.6" r="4.95" fill="none" stroke="#fff" stroke-width="1.3"/><path d="M12.20 3.90L12.90 5.40L11.50 5.40ZM16.55 5.07L16.41 6.71L15.19 6.01ZM19.73 8.25L18.79 9.61L18.09 8.39ZM20.90 12.60L19.40 13.30L19.40 11.90ZM19.73 16.95L18.09 16.81L18.79 15.59ZM16.55 20.13L15.19 19.19L16.41 18.49ZM12.20 21.30L11.50 19.80L12.90 19.80ZM7.85 20.13L7.99 18.49L9.21 19.19ZM4.67 16.95L5.61 15.59L6.31 16.81ZM3.50 12.60L5.00 11.90L5.00 13.30ZM4.67 8.25L6.31 8.39L5.61 9.61ZM7.85 5.07L9.21 6.01L7.99 6.71Z" fill="#fff" stroke="#fff" stroke-width="1.1" stroke-linejoin="round"/><path d="M6.70 24.20 C1.88 24.20 1.88 18.30 6.50 18.12 C6.70 15.25 10.52 14.18 12.13 16.33 C13.64 12.03 20.17 12.93 19.76 17.58 C24.39 17.76 24.39 24.20 19.76 24.20 Z" fill="#fff" stroke="#999" stroke-width="1.0" paint-order="stroke"/></svg></div><div class="c tf" style="left:407.0px;width:27.7px">63</div><div class="c cl" style="left:407.0px;width:27.7px;background:#c4c4c4;">45</div><div class="c pr" style="left:407.0px;width:27.7px">1015</div><div class="c rn" style="left:407.0px;width:27.7px">18z</div><div class="c hr" style="left:435.9px;width:27.7px;background:#cbcbcb">11PM</div><div class="c ws" style="left:435.9px;width:27.7px;top:48.4px">33</div><div class="c wd" style="left:435.9px;width:27.7px">154</div><div class="c gu" style="left:435.9px;width:27.7px;background:#e206b2">48</div><div class="c sk" style="left:435.9px;width:27.7px"><svg width="27.7" height="29" viewBox="0 0 26 26" preserveAspectRatio="none" style="position:absolute;left:0;top:0"><circle cx="13.4" cy="13.2" r="4.95" fill="none" stroke="#fff" stroke-width="1.3"/><path d="M13.40 4.50L14.10 6.00L12.70 6.00ZM17.75 5.67L17.61 7.31L16.39 6.61ZM20.93 8.85L19.99 10.21L19.29 8.99ZM22.10 13.20L20.60 13.90L20.60 12.50ZM20.93 17.55L19.29 17.41L19.99 16.19ZM17.75 20.73L16.39 19.79L17.61 19.09ZM13.40 21.90L12.70 20.40L14.10 20.40ZM9.05 20.73L9.19 19.09L10.41 19.79ZM5.87 17.55L6.81 16.19L7.51 17.41ZM4.70 13.20L6.20 12.50L6.20 13.90ZM5.87 8.85L7.51 8.99L6.81 10.21ZM9.05 5.67L10.41 6.61L9.19 7.31Z" fill="#fff" stroke="#fff" stroke-width="1.1" stroke-linejoin="round"/><path d="M10.71 15.50 C6.91 15.50 6.91 9.68 10.56 9.50 C10.71 6.68 13.73 5.62 14.99 7.74 C16.18 3.50 21.33 4.39 21.02 8.97 C24.66 9.15 24.66 15.50 21.02 15.50 Z" fill="#fff" stroke="#999" stroke-width="1.0" paint-order="stroke"/><path d="M7.04 22.60 C2.29 22.60 2.29 16.78 6.85 16.60 C7.04 13.78 10.81 12.72 12.39 14.84 C13.88 10.60 20.32 11.49 19.92 16.07 C24.48 16.25 24.48 22.60 19.92 22.60 Z" fill="#fff" stroke="#999" stroke-width="1.0" paint-order="stroke"/></svg></div><div class="c tf" style="left:435.9px;width:27.7px">62</div><div class="c cl" style="left:435.9px;width:27.7px;background:#a7a7a7;">68</div><div class="c pr" style="left:435.9px;width:27.7px">1015</div><div class="c rn" style="left:435.9px;width:27.7px">18z</div><div class="c hr" style="left:465.2px;width:27.2px;background:#e6e6e6">12AM</div><div class="c ws" style="left:465.2px;width:27.2px;top:47.4px">34</div><div class="c wd" style="left:465.2px;width:27.2px">152</div><div class="c gu" style="left:465.2px;width:27.2px;background:#e206b2">48</div><div class="c sk" style="left:465.2px;width:27.2px"><svg width="27.2" height="29" viewBox="0 0 26 26" preserveAspectRatio="none" style="position:absolute;left:0;top:0"><path d="M7.85 15.20 C3.43 15.20 3.43 9.09 7.66 8.90 C7.85 5.94 11.34 4.83 12.81 7.05 C14.19 2.60 20.17 3.53 19.81 8.35 C24.04 8.53 24.04 15.20 19.81 15.20 Z" fill="#fff" stroke="#999" stroke-width="1.0" paint-order="stroke"/><path d="M6.80 22.60 C1.98 22.60 1.98 16.98 6.60 16.81 C6.80 14.08 10.62 13.06 12.23 15.10 C13.74 11.01 20.27 11.86 19.86 16.30 C24.49 16.47 24.49 22.60 19.86 22.60 Z" fill="#fff" stroke="#999" stroke-width="1.0" paint-order="stroke"/></svg></div><div class="c tf" style="left:465.2px;width:27.2px">62</div><div class="c cl" style="left:465.2px;width:27.2px;background:#9a9a9a;">78</div><div class="c pr" style="left:465.2px;width:27.2px">1014</div><div class="c rn" style="left:465.2px;width:27.2px">18z</div><div class="c hr" style="left:493.6px;width:25.9px;background:#e6e6e6">1AM</div><div class="c ws" style="left:493.6px;width:25.9px;top:45.4px">36</div><div class="c wd" style="left:493.6px;width:25.9px">150</div><div class="c gu" style="left:493.6px;width:25.9px;background:#e206b2">48</div><div class="c sk" style="left:493.6px;width:25.9px"><svg width="25.9" height="29" viewBox="0 0 26 26" preserveAspectRatio="none" style="position:absolute;left:0;top:0"><path d="M7.85 15.20 C3.43 15.20 3.43 9.09 7.66 8.90 C7.85 5.94 11.34 4.83 12.81 7.05 C14.19 2.60 20.17 3.53 19.81 8.35 C24.04 8.53 24.04 15.20 19.81 15.20 Z" fill="#fff" stroke="#999" stroke-width="1.0" paint-order="stroke"/><path d="M6.80 22.60 C1.98 22.60 1.98 16.98 6.60 16.81 C6.80 14.08 10.62 13.06 12.23 15.10 C13.74 11.01 20.27 11.86 19.86 16.30 C24.49 16.47 24.49 22.60 19.86 22.60 Z" fill="#fff" stroke="#999" stroke-width="1.0" paint-order="stroke"/></svg></div><div class="c tf" style="left:493.6px;width:25.9px">62</div><div class="c cl" style="left:493.6px;width:25.9px;background:#8b8b8b;">89</div><div class="c pr" style="left:493.6px;width:25.9px">1014</div><div class="c rn" style="left:493.6px;width:25.9px">18z</div><div class="c hr" style="left:520.6px;width:25.9px;background:#e6e6e6">2AM</div><div class="c ws" style="left:520.6px;width:25.9px;top:44.4px">37</div><div class="c wd" style="left:520.6px;width:25.9px">148</div><div class="c gu" style="left:520.6px;width:25.9px;background:#e206b2">49</div><div class="c sk" style="left:520.6px;width:25.9px"><svg width="25.9" height="29" viewBox="0 0 26 26" preserveAspectRatio="none" style="position:absolute;left:0;top:0"><path d="M7.85 15.20 C3.43 15.20 3.43 9.09 7.66 8.90 C7.85 5.94 11.34 4.83 12.81 7.05 C14.19 2.60 20.17 3.53 19.81 8.35 C24.04 8.53 24.04 15.20 19.81 15.20 Z" fill="#fff" stroke="#999" stroke-width="1.0" paint-order="stroke"/><path d="M6.80 22.60 C1.98 22.60 1.98 16.98 6.60 16.81 C6.80 14.08 10.62 13.06 12.23 15.10 C13.74 11.01 20.27 11.86 19.86 16.30 C24.49 16.47 24.49 22.60 19.86 22.60 Z" fill="#fff" stroke="#999" stroke-width="1.0" paint-order="stroke"/></svg></div><div class="c tf" style="left:520.6px;width:25.9px">63</div><div class="c cl" style="left:520.6px;width:25.9px;background:#7e7e7e;">99</div><div class="c pr" style="left:520.6px;width:25.9px">1014</div><div class="c rn" style="left:520.6px;width:25.9px">18z</div><div class="c hr" style="left:547.6px;width:25.9px;background:#e6e6e6">3AM</div><div class="c ws" style="left:547.6px;width:25.9px;top:45.4px">36</div><div class="c wd" style="left:547.6px;width:25.9px">148</div><div class="c gu" style="left:547.6px;width:25.9px;background:#e206b2">47</div><div class="c sk" style="left:547.6px;width:25.9px"><svg width="25.9" height="29" viewBox="0 0 26 26" preserveAspectRatio="none" style="position:absolute;left:0;top:0"><path d="M7.85 15.20 C3.43 15.20 3.43 9.09 7.66 8.90 C7.85 5.94 11.34 4.83 12.81 7.05 C14.19 2.60 20.17 3.53 19.81 8.35 C24.04 8.53 24.04 15.20 19.81 15.20 Z" fill="#fff" stroke="#999" stroke-width="1.0" paint-order="stroke"/><path d="M6.80 22.60 C1.98 22.60 1.98 16.98 6.60 16.81 C6.80 14.08 10.62 13.06 12.23 15.10 C13.74 11.01 20.27 11.86 19.86 16.30 C24.49 16.47 24.49 22.60 19.86 22.60 Z" fill="#fff" stroke="#999" stroke-width="1.0" paint-order="stroke"/></svg></div><div class="c tf" style="left:547.6px;width:25.9px">62</div><div class="c cl" style="left:547.6px;width:25.9px;background:#939393;">83</div><div class="c pr" style="left:547.6px;width:25.9px">1014</div><div class="c rn" style="left:547.6px;width:25.9px">18z</div><div class="c hr" style="left:574.6px;width:25.9px;background:#e6e6e6">4AM</div><div class="c ws" style="left:574.6px;width:25.9px;top:47.4px">34</div><div class="c wd" style="left:574.6px;width:25.9px">147</div><div class="c gu" style="left:574.6px;width:25.9px;background:#e206b2">46</div><div class="c sk" style="left:574.6px;width:25.9px"><svg width="25.9" height="29" viewBox="0 0 26 26" preserveAspectRatio="none" style="position:absolute;left:0;top:0"><circle cx="13.4" cy="13.2" r="4.95" fill="none" stroke="#fff" stroke-width="1.3"/><path d="M13.40 4.50L14.10 6.00L12.70 6.00ZM17.75 5.67L17.61 7.31L16.39 6.61ZM20.93 8.85L19.99 10.21L19.29 8.99ZM22.10 13.20L20.60 13.90L20.60 12.50ZM20.93 17.55L19.29 17.41L19.99 16.19ZM17.75 20.73L16.39 19.79L17.61 19.09ZM13.40 21.90L12.70 20.40L14.10 20.40ZM9.05 20.73L9.19 19.09L10.41 19.79ZM5.87 17.55L6.81 16.19L7.51 17.41ZM4.70 13.20L6.20 12.50L6.20 13.90ZM5.87 8.85L7.51 8.99L6.81 10.21ZM9.05 5.67L10.41 6.61L9.19 7.31Z" fill="#fff" stroke="#fff" stroke-width="1.1" stroke-linejoin="round"/><path d="M10.71 15.50 C6.91 15.50 6.91 9.68 10.56 9.50 C10.71 6.68 13.73 5.62 14.99 7.74 C16.18 3.50 21.33 4.39 21.02 8.97 C24.66 9.15 24.66 15.50 21.02 15.50 Z" fill="#fff" stroke="#999" stroke-width="1.0" paint-order="stroke"/><path d="M7.04 22.60 C2.29 22.60 2.29 16.78 6.85 16.60 C7.04 13.78 10.81 12.72 12.39 14.84 C13.88 10.60 20.32 11.49 19.92 16.07 C24.48 16.25 24.48 22.60 19.92 22.60 Z" fill="#fff" stroke="#999" stroke-width="1.0" paint-order="stroke"/></svg></div><div class="c tf" style="left:574.6px;width:25.9px">62</div><div class="c cl" style="left:574.6px;width:25.9px;background:#a7a7a7;">68</div><div class="c pr" style="left:574.6px;width:25.9px">1014</div><div class="c rn" style="left:574.6px;width:25.9px">18z</div><div class="c hr" style="left:601.6px;width:25.9px;background:#e6e6e6">5AM</div><div class="c ws" style="left:601.6px;width:25.9px;top:48.4px">33</div><div class="c wd" style="left:601.6px;width:25.9px">147</div><div class="c gu" style="left:601.6px;width:25.9px;background:#e206b2">45</div><div class="c sk" style="left:601.6px;width:25.9px"><svg width="25.9" height="29" viewBox="0 0 26 26" preserveAspectRatio="none" style="position:absolute;left:0;top:0"><circle cx="13.4" cy="13.2" r="4.95" fill="none" stroke="#fff" stroke-width="1.3"/><path d="M13.40 4.50L14.10 6.00L12.70 6.00ZM17.75 5.67L17.61 7.31L16.39 6.61ZM20.93 8.85L19.99 10.21L19.29 8.99ZM22.10 13.20L20.60 13.90L20.60 12.50ZM20.93 17.55L19.29 17.41L19.99 16.19ZM17.75 20.73L16.39 19.79L17.61 19.09ZM13.40 21.90L12.70 20.40L14.10 20.40ZM9.05 20.73L9.19 19.09L10.41 19.79ZM5.87 17.55L6.81 16.19L7.51 17.41ZM4.70 13.20L6.20 12.50L6.20 13.90ZM5.87 8.85L7.51 8.99L6.81 10.21ZM9.05 5.67L10.41 6.61L9.19 7.31Z" fill="#fff" stroke="#fff" stroke-width="1.1" stroke-linejoin="round"/><path d="M10.71 15.50 C6.91 15.50 6.91 9.68 10.56 9.50 C10.71 6.68 13.73 5.62 14.99 7.74 C16.18 3.50 21.33 4.39 21.02 8.97 C24.66 9.15 24.66 15.50 21.02 15.50 Z" fill="#fff" stroke="#999" stroke-width="1.0" paint-order="stroke"/><path d="M7.04 22.60 C2.29 22.60 2.29 16.78 6.85 16.60 C7.04 13.78 10.81 12.72 12.39 14.84 C13.88 10.60 20.32 11.49 19.92 16.07 C24.48 16.25 24.48 22.60 19.92 22.60 Z" fill="#fff" stroke="#999" stroke-width="1.0" paint-order="stroke"/></svg></div><div class="c tf" style="left:601.6px;width:25.9px">62</div><div class="c cl" style="left:601.6px;width:25.9px;background:#bababa;">53</div><div class="c pr" style="left:601.6px;width:25.9px">1015</div><div class="c rn" style="left:601.6px;width:25.9px">18z</div><div class="c hr" style="left:628.6px;width:25.9px;background:#e6e6e6">6AM</div><div class="c ws" style="left:628.6px;width:25.9px;top:50.4px">31</div><div class="c wd" style="left:628.6px;width:25.9px">148</div><div class="c gu" style="left:628.6px;width:25.9px;background:#e206b2">44</div><div class="c sk" style="left:628.6px;width:25.9px"><svg width="25.9" height="29" viewBox="0 0 26 26" preserveAspectRatio="none" style="position:absolute;left:0;top:0"><circle cx="12.2" cy="12.6" r="4.95" fill="none" stroke="#fff" stroke-width="1.3"/><path d="M12.20 3.90L12.90 5.40L11.50 5.40ZM16.55 5.07L16.41 6.71L15.19 6.01ZM19.73 8.25L18.79 9.61L18.09 8.39ZM20.90 12.60L19.40 13.30L19.40 11.90ZM19.73 16.95L18.09 16.81L18.79 15.59ZM16.55 20.13L15.19 19.19L16.41 18.49ZM12.20 21.30L11.50 19.80L12.90 19.80ZM7.85 20.13L7.99 18.49L9.21 19.19ZM4.67 16.95L5.61 15.59L6.31 16.81ZM3.50 12.60L5.00 11.90L5.00 13.30ZM4.67 8.25L6.31 8.39L5.61 9.61ZM7.85 5.07L9.21 6.01L7.99 6.71Z" fill="#fff" stroke="#fff" stroke-width="1.1" stroke-linejoin="round"/><path d="M6.70 24.20 C1.88 24.20 1.88 18.30 6.50 18.12 C6.70 15.25 10.52 14.18 12.13 16.33 C13.64 12.03 20.17 12.93 19.76 17.58 C24.39 17.76 24.39 24.20 19.76 24.20 Z" fill="#fff" stroke="#999" stroke-width="1.0" paint-order="stroke"/></svg></div><div class="c tf" style="left:628.6px;width:25.9px">62</div><div class="c cl" style="left:628.6px;width:25.9px;background:#cacaca;">41</div><div class="c pr" style="left:628.6px;width:25.9px">1015</div><div class="c rn" style="left:628.6px;width:25.9px">18z</div><div class="c hr" style="left:655.6px;width:25.9px;background:#e6e6e6">7AM</div><div class="c ws" style="left:655.6px;width:25.9px;top:51.4px">30</div><div class="c wd" style="left:655.6px;width:25.9px">149</div><div class="c gu" style="left:655.6px;width:25.9px;background:#e206b2">43</div><div class="c sk" style="left:655.6px;width:25.9px"><svg width="25.9" height="29" viewBox="0 0 26 26" preserveAspectRatio="none" style="position:absolute;left:0;top:0"><circle cx="12.2" cy="12.6" r="4.95" fill="none" stroke="#fff" stroke-width="1.3"/><path d="M12.20 3.90L12.90 5.40L11.50 5.40ZM16.55 5.07L16.41 6.71L15.19 6.01ZM19.73 8.25L18.79 9.61L18.09 8.39ZM20.90 12.60L19.40 13.30L19.40 11.90ZM19.73 16.95L18.09 16.81L18.79 15.59ZM16.55 20.13L15.19 19.19L16.41 18.49ZM12.20 21.30L11.50 19.80L12.90 19.80ZM7.85 20.13L7.99 18.49L9.21 19.19ZM4.67 16.95L5.61 15.59L6.31 16.81ZM3.50 12.60L5.00 11.90L5.00 13.30ZM4.67 8.25L6.31 8.39L5.61 9.61ZM7.85 5.07L9.21 6.01L7.99 6.71Z" fill="#fff" stroke="#fff" stroke-width="1.1" stroke-linejoin="round"/><path d="M6.70 24.20 C1.88 24.20 1.88 18.30 6.50 18.12 C6.70 15.25 10.52 14.18 12.13 16.33 C13.64 12.03 20.17 12.93 19.76 17.58 C24.39 17.76 24.39 24.20 19.76 24.20 Z" fill="#fff" stroke="#999" stroke-width="1.0" paint-order="stroke"/></svg></div><div class="c tf" style="left:655.6px;width:25.9px">62</div><div class="c cl" style="left:655.6px;width:25.9px;background:#d9d9d9;">29</div><div class="c pr" style="left:655.6px;width:25.9px">1014</div><div class="c rn" style="left:655.6px;width:25.9px">18z</div><div class="c hr" style="left:682.6px;width:25.9px;background:#e6e6e6">8AM</div><div class="c ws" style="left:682.6px;width:25.9px;top:52.4px">29</div><div class="c wd" style="left:682.6px;width:25.9px">150</div><div class="c gu" style="left:682.6px;width:25.9px;background:#e206b2">41</div><div class="c sk" style="left:682.6px;width:25.9px"><svg width="25.9" height="29" viewBox="0 0 26 26" preserveAspectRatio="none" style="position:absolute;left:0;top:0"><circle cx="13" cy="12.5" r="4.95" fill="none" stroke="#fff" stroke-width="1.3"/><path d="M13.00 3.80L13.70 5.30L12.30 5.30ZM17.35 4.97L17.21 6.61L15.99 5.91ZM20.53 8.15L19.59 9.51L18.89 8.29ZM21.70 12.50L20.20 13.20L20.20 11.80ZM20.53 16.85L18.89 16.71L19.59 15.49ZM17.35 20.03L15.99 19.09L17.21 18.39ZM13.00 21.20L12.30 19.70L13.70 19.70ZM8.65 20.03L8.79 18.39L10.01 19.09ZM5.47 16.85L6.41 15.49L7.11 16.71ZM4.30 12.50L5.80 11.80L5.80 13.20ZM5.47 8.15L7.11 8.29L6.41 9.51ZM8.65 4.97L10.01 5.91L8.79 6.61Z" fill="#fff" stroke="#fff" stroke-width="1.1" stroke-linejoin="round"/><path d="M12.60 18.90 C9.50 18.90 9.50 14.61 12.47 14.47 C12.60 12.39 15.06 11.61 16.09 13.17 C17.06 10.05 21.26 10.70 21.00 14.08 C23.98 14.21 23.98 18.90 21.00 18.90 Z" fill="#fff" stroke="#999" stroke-width="1.0" paint-order="stroke"/></svg></div><div class="c tf" style="left:682.6px;width:25.9px">62</div><div class="c cl" style="left:682.6px;width:25.9px;background:#e8e8e8;">18</div><div class="c pr" style="left:682.6px;width:25.9px">1014</div><div class="c rn" style="left:682.6px;width:25.9px">18z</div><div class="c hr" style="left:709.6px;width:25.9px;background:#e6e6e6">9AM</div><div class="c ws" style="left:709.6px;width:25.9px;top:53.4px">28</div><div class="c wd" style="left:709.6px;width:25.9px">153</div><div class="c gu" style="left:709.6px;width:25.9px;background:#e206b2">40</div><div class="c sk" style="left:709.6px;width:25.9px"><svg width="25.9" height="29" viewBox="0 0 26 26" preserveAspectRatio="none" style="position:absolute;left:0;top:0"><circle cx="13" cy="12.5" r="4.95" fill="none" stroke="#fff" stroke-width="1.3"/><path d="M13.00 3.80L13.70 5.30L12.30 5.30ZM17.35 4.97L17.21 6.61L15.99 5.91ZM20.53 8.15L19.59 9.51L18.89 8.29ZM21.70 12.50L20.20 13.20L20.20 11.80ZM20.53 16.85L18.89 16.71L19.59 15.49ZM17.35 20.03L15.99 19.09L17.21 18.39ZM13.00 21.20L12.30 19.70L13.70 19.70ZM8.65 20.03L8.79 18.39L10.01 19.09ZM5.47 16.85L6.41 15.49L7.11 16.71ZM4.30 12.50L5.80 11.80L5.80 13.20ZM5.47 8.15L7.11 8.29L6.41 9.51ZM8.65 4.97L10.01 5.91L8.79 6.61Z" fill="#fff" stroke="#fff" stroke-width="1.1" stroke-linejoin="round"/><path d="M12.60 18.90 C9.50 18.90 9.50 14.61 12.47 14.47 C12.60 12.39 15.06 11.61 16.09 13.17 C17.06 10.05 21.26 10.70 21.00 14.08 C23.98 14.21 23.98 18.90 21.00 18.90 Z" fill="#fff" stroke="#999" stroke-width="1.0" paint-order="stroke"/></svg></div><div class="c tf" style="left:709.6px;width:25.9px">62</div><div class="c cl" style="left:709.6px;width:25.9px;background:#efefef;">12</div><div class="c pr" style="left:709.6px;width:25.9px">1013</div><div class="c rn" style="left:709.6px;width:25.9px">18z</div><div class="c hr" style="left:736.6px;width:27.7px;background:#e6e6e6">10AM</div><div class="c ws" style="left:736.6px;width:27.7px;top:54.4px">27</div><div class="c wd" style="left:736.6px;width:27.7px">157</div><div class="c gu" style="left:736.6px;width:27.7px;background:#e206b2">40</div><div class="c sk" style="left:736.6px;width:27.7px"><svg width="27.7" height="29" viewBox="0 0 26 26" preserveAspectRatio="none" style="position:absolute;left:0;top:0"><circle cx="13" cy="12.5" r="4.95" fill="none" stroke="#fff" stroke-width="1.3"/><path d="M13.00 3.80L13.70 5.30L12.30 5.30ZM17.35 4.97L17.21 6.61L15.99 5.91ZM20.53 8.15L19.59 9.51L18.89 8.29ZM21.70 12.50L20.20 13.20L20.20 11.80ZM20.53 16.85L18.89 16.71L19.59 15.49ZM17.35 20.03L15.99 19.09L17.21 18.39ZM13.00 21.20L12.30 19.70L13.70 19.70ZM8.65 20.03L8.79 18.39L10.01 19.09ZM5.47 16.85L6.41 15.49L7.11 16.71ZM4.30 12.50L5.80 11.80L5.80 13.20ZM5.47 8.15L7.11 8.29L6.41 9.51ZM8.65 4.97L10.01 5.91L8.79 6.61Z" fill="#fff" stroke="#fff" stroke-width="1.1" stroke-linejoin="round"/><path d="M12.60 18.90 C9.50 18.90 9.50 14.61 12.47 14.47 C12.60 12.39 15.06 11.61 16.09 13.17 C17.06 10.05 21.26 10.70 21.00 14.08 C23.98 14.21 23.98 18.90 21.00 18.90 Z" fill="#fff" stroke="#999" stroke-width="1.0" paint-order="stroke"/></svg></div><div class="c tf" style="left:736.6px;width:27.7px">62</div><div class="c cl" style="left:736.6px;width:27.7px;background:#f7f7f7;">6</div><div class="c pr" style="left:736.6px;width:27.7px">1013</div><div class="c rn" style="left:736.6px;width:27.7px">18z</div><div class="c hr" style="left:765.5px;width:27.7px;background:#e6e6e6">11AM</div><div class="c ws" style="left:765.5px;width:27.7px;top:55.4px">26</div><div class="c wd" style="left:765.5px;width:27.7px">161</div><div class="c gu" style="left:765.5px;width:27.7px;background:#e203a9">39</div><div class="c sk" style="left:765.5px;width:27.7px"><svg width="27.7" height="29" viewBox="0 0 26 26" preserveAspectRatio="none" style="position:absolute;left:0;top:0"><circle cx="13" cy="13.4" r="4.95" fill="none" stroke="#fff" stroke-width="1.3"/><path d="M13.00 4.70L13.70 6.20L12.30 6.20ZM17.35 5.87L17.21 7.51L15.99 6.81ZM20.53 9.05L19.59 10.41L18.89 9.19ZM21.70 13.40L20.20 14.10L20.20 12.70ZM20.53 17.75L18.89 17.61L19.59 16.39ZM17.35 20.93L15.99 19.99L17.21 19.29ZM13.00 22.10L12.30 20.60L13.70 20.60ZM8.65 20.93L8.79 19.29L10.01 19.99ZM5.47 17.75L6.41 16.39L7.11 17.61ZM4.30 13.40L5.80 12.70L5.80 14.10ZM5.47 9.05L7.11 9.19L6.41 10.41ZM8.65 5.87L10.01 6.81L8.79 7.51Z" fill="#fff" stroke="#fff" stroke-width="1.1" stroke-linejoin="round"/></svg></div><div class="c tf" style="left:765.5px;width:27.7px">62</div><div class="c cl" style="left:765.5px;width:27.7px;">0</div><div class="c pr" style="left:765.5px;width:27.7px">1012</div><div class="c rn" style="left:765.5px;width:27.7px">18z</div><div class="c hr" style="left:794.4px;width:27.7px;background:#e6e6e6">12PM</div><div class="c ws" style="left:794.4px;width:27.7px;top:55.4px">26</div><div class="c wd" style="left:794.4px;width:27.7px">163</div><div class="c gu" style="left:794.4px;width:27.7px;background:#e206b2">40</div><div class="c sk" style="left:794.4px;width:27.7px"><svg width="27.7" height="29" viewBox="0 0 26 26" preserveAspectRatio="none" style="position:absolute;left:0;top:0"><circle cx="13" cy="13.4" r="4.95" fill="none" stroke="#fff" stroke-width="1.3"/><path d="M13.00 4.70L13.70 6.20L12.30 6.20ZM17.35 5.87L17.21 7.51L15.99 6.81ZM20.53 9.05L19.59 10.41L18.89 9.19ZM21.70 13.40L20.20 14.10L20.20 12.70ZM20.53 17.75L18.89 17.61L19.59 16.39ZM17.35 20.93L15.99 19.99L17.21 19.29ZM13.00 22.10L12.30 20.60L13.70 20.60ZM8.65 20.93L8.79 19.29L10.01 19.99ZM5.47 17.75L6.41 16.39L7.11 17.61ZM4.30 13.40L5.80 12.70L5.80 14.10ZM5.47 9.05L7.11 9.19L6.41 10.41ZM8.65 5.87L10.01 6.81L8.79 7.51Z" fill="#fff" stroke="#fff" stroke-width="1.1" stroke-linejoin="round"/></svg></div><div class="c tf" style="left:794.4px;width:27.7px">62</div><div class="c cl" style="left:794.4px;width:27.7px;">0</div><div class="c pr" style="left:794.4px;width:27.7px">1012</div><div class="c rn" style="left:794.4px;width:27.7px">18z</div><div class="c hr" style="left:823.3px;width:25.9px;background:#e6e6e6">1PM</div><div class="c ws" style="left:823.3px;width:25.9px;top:56.4px">25</div><div class="c wd" style="left:823.3px;width:25.9px">165</div><div class="c gu" style="left:823.3px;width:25.9px;background:#e206b2">40</div><div class="c sk" style="left:823.3px;width:25.9px"><svg width="25.9" height="29" viewBox="0 0 26 26" preserveAspectRatio="none" style="position:absolute;left:0;top:0"><circle cx="13" cy="13.4" r="4.95" fill="none" stroke="#fff" stroke-width="1.3"/><path d="M13.00 4.70L13.70 6.20L12.30 6.20ZM17.35 5.87L17.21 7.51L15.99 6.81ZM20.53 9.05L19.59 10.41L18.89 9.19ZM21.70 13.40L20.20 14.10L20.20 12.70ZM20.53 17.75L18.89 17.61L19.59 16.39ZM17.35 20.93L15.99 19.99L17.21 19.29ZM13.00 22.10L12.30 20.60L13.70 20.60ZM8.65 20.93L8.79 19.29L10.01 19.99ZM5.47 17.75L6.41 16.39L7.11 17.61ZM4.30 13.40L5.80 12.70L5.80 14.10ZM5.47 9.05L7.11 9.19L6.41 10.41ZM8.65 5.87L10.01 6.81L8.79 7.51Z" fill="#fff" stroke="#fff" stroke-width="1.1" stroke-linejoin="round"/></svg></div><div class="c tf" style="left:823.3px;width:25.9px">63</div><div class="c cl" style="left:823.3px;width:25.9px;">0</div><div class="c pr" style="left:823.3px;width:25.9px">1011</div><div class="c rn" style="left:823.3px;width:25.9px">18z</div><div class="c hr" style="left:850.3px;width:25.9px;background:#e6e6e6">2PM</div><div class="c ws" style="left:850.3px;width:25.9px;top:56.4px">25</div><div class="c wd" style="left:850.3px;width:25.9px">167</div><div class="c gu" style="left:850.3px;width:25.9px;background:#e206b2">41</div><div class="c sk" style="left:850.3px;width:25.9px"><svg width="25.9" height="29" viewBox="0 0 26 26" preserveAspectRatio="none" style="position:absolute;left:0;top:0"><circle cx="13" cy="13.4" r="4.95" fill="none" stroke="#fff" stroke-width="1.3"/><path d="M13.00 4.70L13.70 6.20L12.30 6.20ZM17.35 5.87L17.21 7.51L15.99 6.81ZM20.53 9.05L19.59 10.41L18.89 9.19ZM21.70 13.40L20.20 14.10L20.20 12.70ZM20.53 17.75L18.89 17.61L19.59 16.39ZM17.35 20.93L15.99 19.99L17.21 19.29ZM13.00 22.10L12.30 20.60L13.70 20.60ZM8.65 20.93L8.79 19.29L10.01 19.99ZM5.47 17.75L6.41 16.39L7.11 17.61ZM4.30 13.40L5.80 12.70L5.80 14.10ZM5.47 9.05L7.11 9.19L6.41 10.41ZM8.65 5.87L10.01 6.81L8.79 7.51Z" fill="#fff" stroke="#fff" stroke-width="1.1" stroke-linejoin="round"/></svg></div><div class="c tf" style="left:850.3px;width:25.9px">63</div><div class="c cl" style="left:850.3px;width:25.9px;">0</div><div class="c pr" style="left:850.3px;width:25.9px">1011</div><div class="c rn" style="left:850.3px;width:25.9px">18z</div><div class="c hr" style="left:877.3px;width:25.9px;background:#e6e6e6">3PM</div><div class="c ws" style="left:877.3px;width:25.9px;top:55.4px">26</div><div class="c wd" style="left:877.3px;width:25.9px">164</div><div class="c gu" style="left:877.3px;width:25.9px;background:#e206b2">43</div><div class="c sk" style="left:877.3px;width:25.9px"><svg width="25.9" height="29" viewBox="0 0 26 26" preserveAspectRatio="none" style="position:absolute;left:0;top:0"><circle cx="13" cy="13.4" r="4.95" fill="none" stroke="#fff" stroke-width="1.3"/><path d="M13.00 4.70L13.70 6.20L12.30 6.20ZM17.35 5.87L17.21 7.51L15.99 6.81ZM20.53 9.05L19.59 10.41L18.89 9.19ZM21.70 13.40L20.20 14.10L20.20 12.70ZM20.53 17.75L18.89 17.61L19.59 16.39ZM17.35 20.93L15.99 19.99L17.21 19.29ZM13.00 22.10L12.30 20.60L13.70 20.60ZM8.65 20.93L8.79 19.29L10.01 19.99ZM5.47 17.75L6.41 16.39L7.11 17.61ZM4.30 13.40L5.80 12.70L5.80 14.10ZM5.47 9.05L7.11 9.19L6.41 10.41ZM8.65 5.87L10.01 6.81L8.79 7.51Z" fill="#fff" stroke="#fff" stroke-width="1.1" stroke-linejoin="round"/></svg></div><div class="c tf" style="left:877.3px;width:25.9px">63</div><div class="c cl" style="left:877.3px;width:25.9px;">0</div><div class="c pr" style="left:877.3px;width:25.9px">1010</div><div class="c rn" style="left:877.3px;width:25.9px">18z</div><div class="c hr" style="left:904.3px;width:25.9px;background:#e6e6e6">4PM</div><div class="c ws" style="left:904.3px;width:25.9px;top:54.4px">27</div><div class="c wd" style="left:904.3px;width:25.9px">161</div><div class="c gu" style="left:904.3px;width:25.9px;background:#e206b2">46</div><div class="c sk" style="left:904.3px;width:25.9px"><svg width="25.9" height="29" viewBox="0 0 26 26" preserveAspectRatio="none" style="position:absolute;left:0;top:0"><circle cx="13" cy="13.4" r="4.95" fill="none" stroke="#fff" stroke-width="1.3"/><path d="M13.00 4.70L13.70 6.20L12.30 6.20ZM17.35 5.87L17.21 7.51L15.99 6.81ZM20.53 9.05L19.59 10.41L18.89 9.19ZM21.70 13.40L20.20 14.10L20.20 12.70ZM20.53 17.75L18.89 17.61L19.59 16.39ZM17.35 20.93L15.99 19.99L17.21 19.29ZM13.00 22.10L12.30 20.60L13.70 20.60ZM8.65 20.93L8.79 19.29L10.01 19.99ZM5.47 17.75L6.41 16.39L7.11 17.61ZM4.30 13.40L5.80 12.70L5.80 14.10ZM5.47 9.05L7.11 9.19L6.41 10.41ZM8.65 5.87L10.01 6.81L8.79 7.51Z" fill="#fff" stroke="#fff" stroke-width="1.1" stroke-linejoin="round"/></svg></div><div class="c tf" style="left:904.3px;width:25.9px">63</div><div class="c cl" style="left:904.3px;width:25.9px;">0</div><div class="c pr" style="left:904.3px;width:25.9px">1011</div><div class="c rn" style="left:904.3px;width:25.9px">18z</div><div class="c hr" style="left:931.3px;width:25.9px;background:#e6e6e6">5PM</div><div class="c ws" style="left:931.3px;width:25.9px;top:53.4px">28</div><div class="c wd" style="left:931.3px;width:25.9px">158</div><div class="c gu" style="left:931.3px;width:25.9px;background:#e206b2">48</div><div class="c sk" style="left:931.3px;width:25.9px"><svg width="25.9" height="29" viewBox="0 0 26 26" preserveAspectRatio="none" style="position:absolute;left:0;top:0"><circle cx="13" cy="13.4" r="4.95" fill="none" stroke="#fff" stroke-width="1.3"/><path d="M13.00 4.70L13.70 6.20L12.30 6.20ZM17.35 5.87L17.21 7.51L15.99 6.81ZM20.53 9.05L19.59 10.41L18.89 9.19ZM21.70 13.40L20.20 14.10L20.20 12.70ZM20.53 17.75L18.89 17.61L19.59 16.39ZM17.35 20.93L15.99 19.99L17.21 19.29ZM13.00 22.10L12.30 20.60L13.70 20.60ZM8.65 20.93L8.79 19.29L10.01 19.99ZM5.47 17.75L6.41 16.39L7.11 17.61ZM4.30 13.40L5.80 12.70L5.80 14.10ZM5.47 9.05L7.11 9.19L6.41 10.41ZM8.65 5.87L10.01 6.81L8.79 7.51Z" fill="#fff" stroke="#fff" stroke-width="1.1" stroke-linejoin="round"/></svg></div><div class="c tf" style="left:931.3px;width:25.9px">64</div><div class="c cl" style="left:931.3px;width:25.9px;">0</div><div class="c pr" style="left:931.3px;width:25.9px">1011</div><div class="c rn" style="left:931.3px;width:25.9px">18z</div><div class="c hr" style="left:958.3px;width:25.9px;background:#e6e6e6">6PM</div><div class="c ws" style="left:958.3px;width:25.9px;top:53.4px">28</div><div class="c wd" style="left:958.3px;width:25.9px">156</div><div class="c gu" style="left:958.3px;width:25.9px;background:#e206b2">49</div><div class="c sk" style="left:958.3px;width:25.9px"><svg width="25.9" height="29" viewBox="0 0 26 26" preserveAspectRatio="none" style="position:absolute;left:0;top:0"><circle cx="13" cy="13.4" r="4.95" fill="none" stroke="#fff" stroke-width="1.3"/><path d="M13.00 4.70L13.70 6.20L12.30 6.20ZM17.35 5.87L17.21 7.51L15.99 6.81ZM20.53 9.05L19.59 10.41L18.89 9.19ZM21.70 13.40L20.20 14.10L20.20 12.70ZM20.53 17.75L18.89 17.61L19.59 16.39ZM17.35 20.93L15.99 19.99L17.21 19.29ZM13.00 22.10L12.30 20.60L13.70 20.60ZM8.65 20.93L8.79 19.29L10.01 19.99ZM5.47 17.75L6.41 16.39L7.11 17.61ZM4.30 13.40L5.80 12.70L5.80 14.10ZM5.47 9.05L7.11 9.19L6.41 10.41ZM8.65 5.87L10.01 6.81L8.79 7.51Z" fill="#fff" stroke="#fff" stroke-width="1.1" stroke-linejoin="round"/></svg></div><div class="c tf" style="left:958.3px;width:25.9px">63</div><div class="c cl" style="left:958.3px;width:25.9px;">0</div><div class="c pr" style="left:958.3px;width:25.9px">1011</div><div class="c rn" style="left:958.3px;width:25.9px">18z</div><div class="c hr" style="left:985.3px;width:25.9px;background:#e6e6e6">7PM</div><div class="c ws" style="left:985.3px;width:25.9px;top:52.4px">29</div><div class="c wd" style="left:985.3px;width:25.9px">154</div><div class="c gu" style="left:985.3px;width:25.9px;background:#e206b2">50</div><div class="c sk" style="left:985.3px;width:25.9px"><svg width="25.9" height="29" viewBox="0 0 26 26" preserveAspectRatio="none" style="position:absolute;left:0;top:0"><circle cx="13" cy="13.4" r="4.95" fill="none" stroke="#fff" stroke-width="1.3"/><path d="M13.00 4.70L13.70 6.20L12.30 6.20ZM17.35 5.87L17.21 7.51L15.99 6.81ZM20.53 9.05L19.59 10.41L18.89 9.19ZM21.70 13.40L20.20 14.10L20.20 12.70ZM20.53 17.75L18.89 17.61L19.59 16.39ZM17.35 20.93L15.99 19.99L17.21 19.29ZM13.00 22.10L12.30 20.60L13.70 20.60ZM8.65 20.93L8.79 19.29L10.01 19.99ZM5.47 17.75L6.41 16.39L7.11 17.61ZM4.30 13.40L5.80 12.70L5.80 14.10ZM5.47 9.05L7.11 9.19L6.41 10.41ZM8.65 5.87L10.01 6.81L8.79 7.51Z" fill="#fff" stroke="#fff" stroke-width="1.1" stroke-linejoin="round"/></svg></div><div class="c tf" style="left:985.3px;width:25.9px">63</div><div class="c cl" style="left:985.3px;width:25.9px;">0</div><div class="c pr" style="left:985.3px;width:25.9px">1011</div><div class="c rn" style="left:985.3px;width:25.9px">18z</div><div class="c hr" style="left:1012.3px;width:25.9px;background:#e6e6e6">8PM</div><div class="c ws" style="left:1012.3px;width:25.9px;top:52.4px">29</div><div class="c wd" style="left:1012.3px;width:25.9px">152</div><div class="c gu" style="left:1012.3px;width:25.9px;background:#e206b2">51</div><div class="c sk" style="left:1012.3px;width:25.9px"><svg width="25.9" height="29" viewBox="0 0 26 26" preserveAspectRatio="none" style="position:absolute;left:0;top:0"><circle cx="13" cy="13.4" r="4.95" fill="none" stroke="#fff" stroke-width="1.3"/><path d="M13.00 4.70L13.70 6.20L12.30 6.20ZM17.35 5.87L17.21 7.51L15.99 6.81ZM20.53 9.05L19.59 10.41L18.89 9.19ZM21.70 13.40L20.20 14.10L20.20 12.70ZM20.53 17.75L18.89 17.61L19.59 16.39ZM17.35 20.93L15.99 19.99L17.21 19.29ZM13.00 22.10L12.30 20.60L13.70 20.60ZM8.65 20.93L8.79 19.29L10.01 19.99ZM5.47 17.75L6.41 16.39L7.11 17.61ZM4.30 13.40L5.80 12.70L5.80 14.10ZM5.47 9.05L7.11 9.19L6.41 10.41ZM8.65 5.87L10.01 6.81L8.79 7.51Z" fill="#fff" stroke="#fff" stroke-width="1.1" stroke-linejoin="round"/></svg></div><div class="c tf" style="left:1012.3px;width:25.9px">63</div><div class="c cl" style="left:1012.3px;width:25.9px;">0</div><div class="c pr" style="left:1012.3px;width:25.9px">1011</div><div class="c rn" style="left:1012.3px;width:25.9px">18z</div><div class="c hr" style="left:1039.3px;width:25.9px;background:#e6e6e6">9PM</div><div class="c ws" style="left:1039.3px;width:25.9px;top:54.4px">27</div><div class="c wd" style="left:1039.3px;width:25.9px">152</div><div class="c gu" style="left:1039.3px;width:25.9px;background:#e206b2">47</div><div class="c sk" style="left:1039.3px;width:25.9px"><svg width="25.9" height="29" viewBox="0 0 26 26" preserveAspectRatio="none" style="position:absolute;left:0;top:0"><circle cx="13" cy="13.4" r="4.95" fill="none" stroke="#fff" stroke-width="1.3"/><path d="M13.00 4.70L13.70 6.20L12.30 6.20ZM17.35 5.87L17.21 7.51L15.99 6.81ZM20.53 9.05L19.59 10.41L18.89 9.19ZM21.70 13.40L20.20 14.10L20.20 12.70ZM20.53 17.75L18.89 17.61L19.59 16.39ZM17.35 20.93L15.99 19.99L17.21 19.29ZM13.00 22.10L12.30 20.60L13.70 20.60ZM8.65 20.93L8.79 19.29L10.01 19.99ZM5.47 17.75L6.41 16.39L7.11 17.61ZM4.30 13.40L5.80 12.70L5.80 14.10ZM5.47 9.05L7.11 9.19L6.41 10.41ZM8.65 5.87L10.01 6.81L8.79 7.51Z" fill="#fff" stroke="#fff" stroke-width="1.1" stroke-linejoin="round"/></svg></div><div class="c tf" style="left:1039.3px;width:25.9px">63</div><div class="c cl" style="left:1039.3px;width:25.9px;">0</div><div class="c pr" style="left:1039.3px;width:25.9px">1011</div><div class="c rn" style="left:1039.3px;width:25.9px">18z</div><div class="c hr" style="left:1066.3px;width:27.8px;background:#e6e6e6">10PM</div><div class="c ws" style="left:1066.3px;width:27.8px;top:55.4px">26</div><div class="c wd" style="left:1066.3px;width:27.8px">153</div><div class="c gu" style="left:1066.3px;width:27.8px;background:#e206b2">44</div><div class="c sk" style="left:1066.3px;width:27.8px"><svg width="27.8" height="29" viewBox="0 0 26 26" preserveAspectRatio="none" style="position:absolute;left:0;top:0"><circle cx="13" cy="13.4" r="4.95" fill="none" stroke="#fff" stroke-width="1.3"/><path d="M13.00 4.70L13.70 6.20L12.30 6.20ZM17.35 5.87L17.21 7.51L15.99 6.81ZM20.53 9.05L19.59 10.41L18.89 9.19ZM21.70 13.40L20.20 14.10L20.20 12.70ZM20.53 17.75L18.89 17.61L19.59 16.39ZM17.35 20.93L15.99 19.99L17.21 19.29ZM13.00 22.10L12.30 20.60L13.70 20.60ZM8.65 20.93L8.79 19.29L10.01 19.99ZM5.47 17.75L6.41 16.39L7.11 17.61ZM4.30 13.40L5.80 12.70L5.80 14.10ZM5.47 9.05L7.11 9.19L6.41 10.41ZM8.65 5.87L10.01 6.81L8.79 7.51Z" fill="#fff" stroke="#fff" stroke-width="1.1" stroke-linejoin="round"/></svg></div><div class="c tf" style="left:1066.3px;width:27.8px">63</div><div class="c cl" style="left:1066.3px;width:27.8px;">0</div><div class="c pr" style="left:1066.3px;width:27.8px">1010</div><div class="c rn" style="left:1066.3px;width:27.8px">18z</div><div class="c hr" style="left:1095.2px;width:27.8px;background:#e6e6e6">11PM</div><div class="c ws" style="left:1095.2px;width:27.8px;top:57.4px">24</div><div class="c wd" style="left:1095.2px;width:27.8px">153</div><div class="c gu" style="left:1095.2px;width:27.8px;background:#e206b2">40</div><div class="c sk" style="left:1095.2px;width:27.8px"><svg width="27.8" height="29" viewBox="0 0 26 26" preserveAspectRatio="none" style="position:absolute;left:0;top:0"><circle cx="13" cy="13.4" r="4.95" fill="none" stroke="#fff" stroke-width="1.3"/><path d="M13.00 4.70L13.70 6.20L12.30 6.20ZM17.35 5.87L17.21 7.51L15.99 6.81ZM20.53 9.05L19.59 10.41L18.89 9.19ZM21.70 13.40L20.20 14.10L20.20 12.70ZM20.53 17.75L18.89 17.61L19.59 16.39ZM17.35 20.93L15.99 19.99L17.21 19.29ZM13.00 22.10L12.30 20.60L13.70 20.60ZM8.65 20.93L8.79 19.29L10.01 19.99ZM5.47 17.75L6.41 16.39L7.11 17.61ZM4.30 13.40L5.80 12.70L5.80 14.10ZM5.47 9.05L7.11 9.19L6.41 10.41ZM8.65 5.87L10.01 6.81L8.79 7.51Z" fill="#fff" stroke="#fff" stroke-width="1.1" stroke-linejoin="round"/></svg></div><div class="c tf" style="left:1095.2px;width:27.8px">63</div><div class="c cl" style="left:1095.2px;width:27.8px;">0</div><div class="c pr" style="left:1095.2px;width:27.8px">1010</div><div class="c rn" style="left:1095.2px;width:27.8px">18z</div><div class="c hr" style="left:1124.7px;width:27.3px;background:#cbcbcb">12AM</div><div class="c ws" style="left:1124.7px;width:27.3px;top:60.4px">21</div><div class="c wd" style="left:1124.7px;width:27.3px">147</div><div class="c gu" style="left:1124.7px;width:27.3px;background:#d20062">36</div><div class="c sk" style="left:1124.7px;width:27.3px"><svg width="27.3" height="29" viewBox="0 0 26 26" preserveAspectRatio="none" style="position:absolute;left:0;top:0"><circle cx="13" cy="13.4" r="4.95" fill="none" stroke="#fff" stroke-width="1.3"/><path d="M13.00 4.70L13.70 6.20L12.30 6.20ZM17.35 5.87L17.21 7.51L15.99 6.81ZM20.53 9.05L19.59 10.41L18.89 9.19ZM21.70 13.40L20.20 14.10L20.20 12.70ZM20.53 17.75L18.89 17.61L19.59 16.39ZM17.35 20.93L15.99 19.99L17.21 19.29ZM13.00 22.10L12.30 20.60L13.70 20.60ZM8.65 20.93L8.79 19.29L10.01 19.99ZM5.47 17.75L6.41 16.39L7.11 17.61ZM4.30 13.40L5.80 12.70L5.80 14.10ZM5.47 9.05L7.11 9.19L6.41 10.41ZM8.65 5.87L10.01 6.81L8.79 7.51Z" fill="#fff" stroke="#fff" stroke-width="1.1" stroke-linejoin="round"/></svg></div><div class="c tf" style="left:1124.7px;width:27.3px">63</div><div class="c cl" style="left:1124.7px;width:27.3px;">0</div><div class="c pr" style="left:1124.7px;width:27.3px">1010</div><div class="c rn" style="left:1124.7px;width:27.3px">18z</div><div class="c hr" style="left:1153.1px;width:25.9px;background:#cbcbcb">1AM</div><div class="c ws" style="left:1153.1px;width:25.9px;top:62.4px">19</div><div class="c wd" style="left:1153.1px;width:25.9px">141</div><div class="c gu" style="left:1153.1px;width:25.9px;background:#b6002b">32</div><div class="c sk" style="left:1153.1px;width:25.9px"><svg width="25.9" height="29" viewBox="0 0 26 26" preserveAspectRatio="none" style="position:absolute;left:0;top:0"><circle cx="13" cy="13.4" r="4.95" fill="none" stroke="#fff" stroke-width="1.3"/><path d="M13.00 4.70L13.70 6.20L12.30 6.20ZM17.35 5.87L17.21 7.51L15.99 6.81ZM20.53 9.05L19.59 10.41L18.89 9.19ZM21.70 13.40L20.20 14.10L20.20 12.70ZM20.53 17.75L18.89 17.61L19.59 16.39ZM17.35 20.93L15.99 19.99L17.21 19.29ZM13.00 22.10L12.30 20.60L13.70 20.60ZM8.65 20.93L8.79 19.29L10.01 19.99ZM5.47 17.75L6.41 16.39L7.11 17.61ZM4.30 13.40L5.80 12.70L5.80 14.10ZM5.47 9.05L7.11 9.19L6.41 10.41ZM8.65 5.87L10.01 6.81L8.79 7.51Z" fill="#fff" stroke="#fff" stroke-width="1.1" stroke-linejoin="round"/></svg></div><div class="c tf" style="left:1153.1px;width:25.9px">62</div><div class="c cl" style="left:1153.1px;width:25.9px;">0</div><div class="c pr" style="left:1153.1px;width:25.9px">1010</div><div class="c rn" style="left:1153.1px;width:25.9px">18z</div><div class="c hr" style="left:1180.1px;width:25.9px;background:#cbcbcb">2AM</div><div class="c ws" style="left:1180.1px;width:25.9px;top:64.4px">17</div><div class="c wd" style="left:1180.1px;width:25.9px">132</div><div class="c gu" style="left:1180.1px;width:25.9px;background:#840004">28</div><div class="c sk" style="left:1180.1px;width:25.9px"><svg width="25.9" height="29" viewBox="0 0 26 26" preserveAspectRatio="none" style="position:absolute;left:0;top:0"><circle cx="13" cy="13.4" r="4.95" fill="none" stroke="#fff" stroke-width="1.3"/><path d="M13.00 4.70L13.70 6.20L12.30 6.20ZM17.35 5.87L17.21 7.51L15.99 6.81ZM20.53 9.05L19.59 10.41L18.89 9.19ZM21.70 13.40L20.20 14.10L20.20 12.70ZM20.53 17.75L18.89 17.61L19.59 16.39ZM17.35 20.93L15.99 19.99L17.21 19.29ZM13.00 22.10L12.30 20.60L13.70 20.60ZM8.65 20.93L8.79 19.29L10.01 19.99ZM5.47 17.75L6.41 16.39L7.11 17.61ZM4.30 13.40L5.80 12.70L5.80 14.10ZM5.47 9.05L7.11 9.19L6.41 10.41ZM8.65 5.87L10.01 6.81L8.79 7.51Z" fill="#fff" stroke="#fff" stroke-width="1.1" stroke-linejoin="round"/></svg></div><div class="c tf" style="left:1180.1px;width:25.9px">62</div><div class="c cl" style="left:1180.1px;width:25.9px;">0</div><div class="c pr" style="left:1180.1px;width:25.9px">1010</div><div class="c rn" style="left:1180.1px;width:25.9px">18z</div><div class="c hr" style="left:1207.1px;width:25.9px;background:#cbcbcb">3AM</div><div class="c ws" style="left:1207.1px;width:25.9px;top:66.4px">15</div><div class="c wd" style="left:1207.1px;width:25.9px">122</div><div class="c gu" style="left:1207.1px;width:25.9px;background:#ff4016">24</div><div class="c sk" style="left:1207.1px;width:25.9px"><svg width="25.9" height="29" viewBox="0 0 26 26" preserveAspectRatio="none" style="position:absolute;left:0;top:0"><circle cx="13" cy="13.4" r="4.95" fill="none" stroke="#fff" stroke-width="1.3"/><path d="M13.00 4.70L13.70 6.20L12.30 6.20ZM17.35 5.87L17.21 7.51L15.99 6.81ZM20.53 9.05L19.59 10.41L18.89 9.19ZM21.70 13.40L20.20 14.10L20.20 12.70ZM20.53 17.75L18.89 17.61L19.59 16.39ZM17.35 20.93L15.99 19.99L17.21 19.29ZM13.00 22.10L12.30 20.60L13.70 20.60ZM8.65 20.93L8.79 19.29L10.01 19.99ZM5.47 17.75L6.41 16.39L7.11 17.61ZM4.30 13.40L5.80 12.70L5.80 14.10ZM5.47 9.05L7.11 9.19L6.41 10.41ZM8.65 5.87L10.01 6.81L8.79 7.51Z" fill="#fff" stroke="#fff" stroke-width="1.1" stroke-linejoin="round"/></svg></div><div class="c tf" style="left:1207.1px;width:25.9px">61</div><div class="c cl" style="left:1207.1px;width:25.9px;">0</div><div class="c pr" style="left:1207.1px;width:25.9px">1010</div><div class="c rn" style="left:1207.1px;width:25.9px">18z</div><div class="c hr" style="left:1234.1px;width:25.9px;background:#cbcbcb">4AM</div><div class="c ws" style="left:1234.1px;width:25.9px;top:68.4px">13</div><div class="c wd" style="left:1234.1px;width:25.9px">109</div><div class="c gu" style="left:1234.1px;width:25.9px;background:#ffaf12">20</div><div class="c sk" style="left:1234.1px;width:25.9px"><svg width="25.9" height="29" viewBox="0 0 26 26" preserveAspectRatio="none" style="position:absolute;left:0;top:0"><circle cx="13" cy="13.4" r="4.95" fill="none" stroke="#fff" stroke-width="1.3"/><path d="M13.00 4.70L13.70 6.20L12.30 6.20ZM17.35 5.87L17.21 7.51L15.99 6.81ZM20.53 9.05L19.59 10.41L18.89 9.19ZM21.70 13.40L20.20 14.10L20.20 12.70ZM20.53 17.75L18.89 17.61L19.59 16.39ZM17.35 20.93L15.99 19.99L17.21 19.29ZM13.00 22.10L12.30 20.60L13.70 20.60ZM8.65 20.93L8.79 19.29L10.01 19.99ZM5.47 17.75L6.41 16.39L7.11 17.61ZM4.30 13.40L5.80 12.70L5.80 14.10ZM5.47 9.05L7.11 9.19L6.41 10.41ZM8.65 5.87L10.01 6.81L8.79 7.51Z" fill="#fff" stroke="#fff" stroke-width="1.1" stroke-linejoin="round"/></svg></div><div class="c tf" style="left:1234.1px;width:25.9px">60</div><div class="c cl" style="left:1234.1px;width:25.9px;">0</div><div class="c pr" style="left:1234.1px;width:25.9px">1010</div><div class="c rn" style="left:1234.1px;width:25.9px">18z</div><div class="a" style="left:463.8px;top:0;width:1.3px;height:318.5px;background:#111"></div><div class="a" style="left:463.0px;top:20.4px;width:3px;height:0.9px;background:#fff"></div><div class="a" style="left:463.0px;top:42.9px;width:3px;height:1.0px;background:#fff"></div><div class="a" style="left:463.0px;top:159.8px;width:3px;height:1.0px;background:#fff"></div><div class="a" style="left:463.0px;top:189.8px;width:3px;height:1.2px;background:#fff"></div><div class="a" style="left:463.0px;top:211.0px;width:3px;height:1.6px;background:#fff"></div><div class="a" style="left:463.0px;top:263.6px;width:3px;height:1.9px;background:#fff"></div><div class="a" style="left:463.0px;top:296.8px;width:3px;height:1.8px;background:#fff"></div><div class="a" style="left:1123.2px;top:0;width:1.3px;height:318.5px;background:#111"></div><div class="a" style="left:1122.4px;top:20.4px;width:3px;height:0.9px;background:#fff"></div><div class="a" style="left:1122.4px;top:42.9px;width:3px;height:1.0px;background:#fff"></div><div class="a" style="left:1122.4px;top:159.8px;width:3px;height:1.0px;background:#fff"></div><div class="a" style="left:1122.4px;top:189.8px;width:3px;height:1.2px;background:#fff"></div><div class="a" style="left:1122.4px;top:211.0px;width:3px;height:1.6px;background:#fff"></div><div class="a" style="left:1122.4px;top:263.6px;width:3px;height:1.9px;background:#fff"></div><div class="a" style="left:1122.4px;top:296.8px;width:3px;height:1.8px;background:#fff"></div><svg class="a" style="left:0;top:0" width="1247" height="382" viewBox="0 0 1247 382"><rect x="74.7" y="357.0" width="15.3" height="7.7" fill="#ff4016"/><rect x="89.0" y="356.7" width="44.0" height="8.0" fill="#fc0505"/><rect x="132.0" y="356.4" width="11.0" height="8.3" fill="#7d0000"/><rect x="142.0" y="356.0" width="9.0" height="8.7" fill="#8f000e"/><rect x="150.0" y="355.8" width="8.0" height="8.9" fill="#a0001e"/><rect x="157.0" y="355.5" width="5.9" height="9.2" fill="#b6002b"/><rect x="161.9" y="355.1" width="5.9" height="9.6" fill="#c60042"/><rect x="166.7" y="354.7" width="5.9" height="10.0" fill="#d20062"/><rect x="171.6" y="354.3" width="5.9" height="10.4" fill="#e200a0"/><rect x="176.4" y="353.9" width="5.9" height="10.8" fill="#e206b2"/><rect x="181.3" y="353.7" width="5.9" height="11.0" fill="#e206b2"/><rect x="186.2" y="353.5" width="5.9" height="11.2" fill="#e206b2"/><rect x="191.0" y="353.3" width="5.9" height="11.4" fill="#e206b2"/><rect x="195.9" y="352.9" width="5.9" height="11.8" fill="#e206b2"/><rect x="200.8" y="352.7" width="5.9" height="12.0" fill="#e206b2"/><rect x="205.6" y="352.3" width="5.9" height="12.4" fill="#e206b2"/><rect x="210.5" y="352.3" width="5.9" height="12.4" fill="#e206b2"/><rect x="215.3" y="352.3" width="5.9" height="12.4" fill="#e206b2"/><rect x="220.2" y="352.3" width="5.9" height="12.4" fill="#e206b2"/><rect x="225.1" y="352.3" width="5.9" height="12.4" fill="#e206b2"/><rect x="229.9" y="352.3" width="5.9" height="12.4" fill="#e206b2"/><rect x="234.8" y="352.1" width="5.9" height="12.6" fill="#e206b2"/><rect x="239.7" y="352.5" width="5.9" height="12.2" fill="#e206b2"/><rect x="244.5" y="352.7" width="5.9" height="12.0" fill="#e206b2"/><rect x="249.4" y="352.9" width="5.9" height="11.8" fill="#e206b2"/><rect x="254.2" y="353.1" width="5.9" height="11.6" fill="#e206b2"/><rect x="259.1" y="353.3" width="5.9" height="11.4" fill="#e206b2"/><rect x="264.0" y="353.7" width="5.9" height="11.0" fill="#e206b2"/><rect x="268.8" y="353.9" width="5.9" height="10.8" fill="#e206b2"/><rect x="273.7" y="353.9" width="5.9" height="10.8" fill="#e206b2"/><rect x="278.6" y="354.1" width="5.9" height="10.6" fill="#e203a9"/><rect x="283.4" y="353.9" width="5.9" height="10.8" fill="#e206b2"/><rect x="288.3" y="353.9" width="5.9" height="10.8" fill="#e206b2"/><rect x="293.1" y="353.7" width="5.9" height="11.0" fill="#e206b2"/><rect x="298.0" y="353.3" width="5.9" height="11.4" fill="#e206b2"/><rect x="302.9" y="352.7" width="5.9" height="12.0" fill="#e206b2"/><rect x="307.7" y="352.3" width="5.9" height="12.4" fill="#e206b2"/><rect x="312.6" y="352.1" width="5.9" height="12.6" fill="#e206b2"/><rect x="317.5" y="351.9" width="5.9" height="12.8" fill="#e206b2"/><rect x="322.3" y="351.9" width="5.9" height="12.8" fill="#e206b2"/><rect x="327.2" y="352.5" width="5.9" height="12.2" fill="#e206b2"/><rect x="332.0" y="353.1" width="5.9" height="11.6" fill="#e206b2"/><rect x="336.9" y="353.9" width="5.9" height="10.8" fill="#e206b2"/><rect x="341.8" y="354.7" width="5.9" height="10.0" fill="#d20062"/><rect x="346.6" y="355.5" width="5.9" height="9.2" fill="#b6002b"/><rect x="351.5" y="356.2" width="5.9" height="8.5" fill="#840004"/><rect x="356.4" y="357.0" width="5.9" height="7.7" fill="#ff4016"/><rect x="361.2" y="357.8" width="5.9" height="6.9" fill="#ffaf12"/><rect x="366.5" y="358.2" width="11.1" height="6.5" fill="#f8dd0d"/><rect x="376.6" y="357.9" width="16.0" height="6.8" fill="#ffba10"/><rect x="391.6" y="357.6" width="11.0" height="7.1" fill="#ff9419"/><rect x="401.6" y="358.2" width="4.8" height="6.5" fill="#f8dd0d"/><rect x="405.4" y="358.8" width="6.0" height="5.9" fill="#78f500"/><rect x="410.4" y="359.3" width="6.0" height="5.4" fill="#16e51c"/><rect x="415.4" y="360.0" width="6.0" height="4.7" fill="#46e27c"/><rect x="420.4" y="360.8" width="11.0" height="3.9" fill="#8deae2"/><rect x="430.4" y="359.6" width="7.3" height="5.1" fill="#1ee132"/><rect x="436.7" y="357.9" width="18.6" height="6.8" fill="#ffba10"/><rect x="454.3" y="357.5" width="6.0" height="7.2" fill="#ff9419"/><rect x="459.3" y="358.3" width="6.0" height="6.4" fill="#f4e60e"/><rect x="464.3" y="359.0" width="7.2" height="5.7" fill="#46ee0a"/><rect x="470.5" y="359.8" width="8.5" height="5.0" fill="#2de150"/><rect x="478.0" y="360.8" width="11.0" height="3.9" fill="#8deae2"/><rect x="488.0" y="359.8" width="25.0" height="5.0" fill="#2de150"/><rect x="512.0" y="360.8" width="13.4" height="3.9" fill="#8deae2"/><rect x="524.4" y="361.5" width="11.1" height="3.2" fill="#94e7e9"/><rect x="534.5" y="360.8" width="11.0" height="3.9" fill="#8deae2"/><rect x="544.5" y="359.8" width="11.0" height="5.0" fill="#2de150"/><rect x="554.5" y="359.3" width="8.5" height="5.4" fill="#16e51c"/><rect x="562.0" y="359.8" width="6.0" height="5.0" fill="#2de150"/><rect x="567.0" y="360.8" width="18.6" height="3.9" fill="#8deae2"/><rect x="584.6" y="359.8" width="26.0" height="5.0" fill="#2de150"/><rect x="609.6" y="360.8" width="14.8" height="3.9" fill="#8deae2"/><rect x="623.4" y="359.6" width="9.8" height="5.1" fill="#1ee132"/><rect x="632.2" y="358.8" width="7.3" height="5.9" fill="#78f500"/><rect x="638.5" y="358.3" width="9.7" height="6.4" fill="#f2ec0e"/><rect x="647.2" y="357.9" width="27.8" height="6.8" fill="#ffba10"/><rect x="674.0" y="358.3" width="9.0" height="6.4" fill="#f4e60e"/><rect x="682.0" y="358.7" width="13.0" height="6.0" fill="#96f404"/><rect x="694.0" y="358.8" width="41.0" height="5.9" fill="#78f500"/><rect x="734.0" y="358.3" width="16.0" height="6.4" fill="#f4e60e"/><rect x="749.0" y="357.8" width="11.0" height="6.9" fill="#ffaf12"/><rect x="759.0" y="357.2" width="6.0" height="7.5" fill="#ff6a18"/><rect x="764.0" y="356.7" width="9.0" height="8.0" fill="#fc0505"/><rect x="772.0" y="356.2" width="43.0" height="8.5" fill="#840004"/><rect x="814.0" y="356.7" width="31.0" height="8.0" fill="#fc0505"/><rect x="844.0" y="356.2" width="21.0" height="8.5" fill="#840004"/><rect x="864.0" y="356.7" width="16.0" height="8.0" fill="#a60024"/><rect x="879.0" y="356.4" width="11.0" height="8.3" fill="#bc0036"/><rect x="889.0" y="355.9" width="14.0" height="8.8" fill="#cc0052"/><rect x="902.0" y="355.9" width="8.0" height="8.8" fill="#e00082"/><rect x="909.0" y="354.5" width="16.0" height="10.2" fill="#e202a4"/><rect x="924.0" y="354.5" width="26.0" height="10.2" fill="#e206b2"/><rect x="949.0" y="353.0" width="76.0" height="11.7" fill="#e206b2"/><rect x="1024.0" y="354.7" width="97.0" height="10.0" fill="#e206b2"/><rect x="1120.0" y="353.4" width="40.0" height="11.3" fill="#e206b2"/><rect x="1159.0" y="351.9" width="88.0" height="12.8" fill="#e206b2"/><line x1="109.3" y1="340.5" x2="109.3" y2="364.7" stroke="#111" stroke-width="1" stroke-dasharray="1.5 1.5"/><line x1="226.0" y1="340.5" x2="226.0" y2="364.7" stroke="#111" stroke-width="1" stroke-dasharray="1.5 1.5"/><line x1="342.7" y1="340.5" x2="342.7" y2="364.7" stroke="#111" stroke-width="1" stroke-dasharray="1.5 1.5"/><line x1="459.4" y1="340.5" x2="459.4" y2="364.7" stroke="#111" stroke-width="1" stroke-dasharray="1.5 1.5"/><line x1="576.1" y1="340.5" x2="576.1" y2="364.7" stroke="#111" stroke-width="1" stroke-dasharray="1.5 1.5"/><line x1="692.8" y1="340.5" x2="692.8" y2="364.7" stroke="#111" stroke-width="1" stroke-dasharray="1.5 1.5"/><line x1="809.5" y1="340.5" x2="809.5" y2="364.7" stroke="#111" stroke-width="1" stroke-dasharray="1.5 1.5"/><line x1="926.2" y1="340.5" x2="926.2" y2="364.7" stroke="#111" stroke-width="1" stroke-dasharray="1.5 1.5"/><line x1="1042.9" y1="340.5" x2="1042.9" y2="364.7" stroke="#111" stroke-width="1" stroke-dasharray="1.5 1.5"/><line x1="1159.6" y1="340.5" x2="1159.6" y2="364.7" stroke="#111" stroke-width="1" stroke-dasharray="1.5 1.5"/></svg><div class="tl" style="left:167.6px">Sun, 23 Nov</div><div class="tl" style="left:284.3px">Mon, 24 Nov</div><div class="tl" style="left:401.0px">Tue, 25 Nov</div><div class="tl" style="left:517.7px">Wed, 26 Nov</div><div class="tl" style="left:634.4px">Thu, 27 Nov</div><div class="tl" style="left:751.1px">Fri, 28 Nov</div><div class="tl" style="left:867.8px">Sat, 29 Nov</div><div class="tl" style="left:984.5px">Sun, 30 Nov</div><div class="tl" style="left:1101.2px">Mon, 1 Dec</div><div class="tl" style="left:1202px">Tue, 2</div><div class="a" style="left:156.3px;top:324.1px;width:205.0px;height:40.7px;border:3px solid #3b6fc2;border-radius:9.5px;background:rgba(255,255,255,.5)"></div><svg class="a" style="left:22.2px;top:332.7px" width="32" height="32" viewBox="0 0 32 32"><circle cx="16" cy="16" r="16" fill="#1e3a7d"/><polygon points="9.0,25.8 11.8,20.6 19.5,20.8 23.4,9.0 20.6,21.6" fill="#e2321f"/><text x="15.9" y="20.9" text-anchor="middle" font-family="Liberation Sans, sans-serif" font-weight="bold" font-size="12.6" fill="#fff">iW</text></svg></div>
</body></html>
